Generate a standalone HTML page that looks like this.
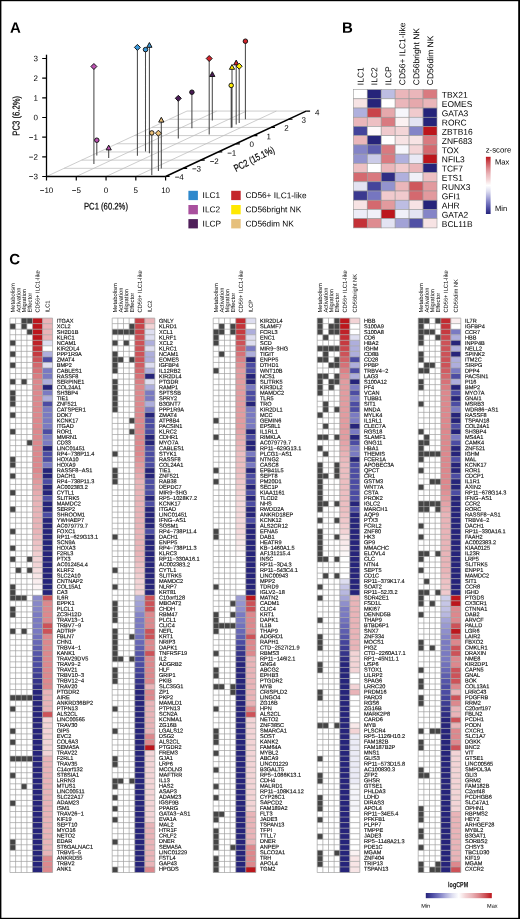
<!DOCTYPE html>
<html><head><meta charset="utf-8"><style>
html,body{margin:0;padding:0;background:#fff;}
body{width:520px;height:919px;overflow:hidden;}
svg{display:block;will-change:transform;text-rendering:geometricPrecision;font-family:"Liberation Sans", sans-serif;}
</style></head><body>
<svg width="520" height="919" viewBox="0 0 520 919" fill="#000">
<rect x="0" y="0" width="520" height="919" fill="#000"/>
<rect x="1.4" y="1.2" width="516.8" height="916.6" fill="#fff"/>
<text transform="translate(10 32.7) rotate(0.05)" font-size="15" font-weight="bold">A</text>
<text transform="translate(342 32.8) rotate(0.05)" font-size="15" font-weight="bold">B</text>
<text transform="translate(9.3 264.2) rotate(0.05)" font-size="15" font-weight="bold">C</text>
<path d="M64.06 168.32L183.16 168.32M81.62 160.14L200.72 160.14M99.18 151.96L218.28 151.96M116.74 143.78L235.84 143.78M134.3 135.6L253.4 135.6M151.86 127.42L270.96 127.42M169.42 119.24L288.52 119.24M186.98 111.06L306.08 111.06M46.5 176.5L186.98 111.06M76.28 176.5L216.75 111.06M106.05 176.5L246.53 111.06M135.82 176.5L276.3 111.06" stroke="#bcbcbc" stroke-width="0.75" fill="none"/>
<path d="M46.5 54.7L46.5 176.5" stroke="#000" stroke-width="1.3" fill="none"/>
<path d="M46.5 176.5L165.6 176.5" stroke="#000" stroke-width="1.4" fill="none"/>
<path d="M165.6 176.5L306.08 111.06" stroke="#000" stroke-width="1.5" fill="none"/>
<text transform="translate(37.9 179.35) rotate(0.05)" font-size="8" text-anchor="end">−3</text>
<text transform="translate(37.9 159.68) rotate(0.05)" font-size="8" text-anchor="end">−2</text>
<text transform="translate(37.9 140.01) rotate(0.05)" font-size="8" text-anchor="end">−1</text>
<text transform="translate(37.9 120.34) rotate(0.05)" font-size="8" text-anchor="end">0</text>
<text transform="translate(37.9 100.67) rotate(0.05)" font-size="8" text-anchor="end">1</text>
<text transform="translate(37.9 81) rotate(0.05)" font-size="8" text-anchor="end">2</text>
<text transform="translate(37.9 61.33) rotate(0.05)" font-size="8" text-anchor="end">3</text>
<text transform="translate(46.5 193.1) rotate(0.05)" font-size="8" text-anchor="middle">−10</text>
<text transform="translate(76.28 193.1) rotate(0.05)" font-size="8" text-anchor="middle">−5</text>
<text transform="translate(106.05 193.1) rotate(0.05)" font-size="8" text-anchor="middle">0</text>
<text transform="translate(135.82 193.1) rotate(0.05)" font-size="8" text-anchor="middle">5</text>
<text transform="translate(165.6 193.1) rotate(0.05)" font-size="8" text-anchor="middle">10</text>
<path d="M46.5 176.5L42.2 176.5M46.5 156.83L42.2 156.83M46.5 137.16L42.2 137.16M46.5 117.49L42.2 117.49M46.5 97.82L42.2 97.82M46.5 78.15L42.2 78.15M46.5 58.48L42.2 58.48M46.5 176.5L46.5 180.5M76.28 176.5L76.28 180.5M106.05 176.5L106.05 180.5M135.82 176.5L135.82 180.5M165.6 176.5L165.6 180.5M165.6 176.5L169.6 176.5M183.16 168.32L187.16 168.32M200.72 160.14L204.72 160.14M218.28 151.96L222.28 151.96M235.84 143.78L239.84 143.78M253.4 135.6L257.4 135.6M270.96 127.42L274.96 127.42M288.52 119.24L292.52 119.24M306.08 111.06L310.08 111.06" stroke="#000" stroke-width="1.2" fill="none"/>
<text transform="translate(179.2 179.85) rotate(0.05)" font-size="8" text-anchor="middle">−4</text>
<text transform="translate(196.5 171.55) rotate(0.05)" font-size="8" text-anchor="middle">−3</text>
<text transform="translate(214.2 164.05) rotate(0.05)" font-size="8" text-anchor="middle">−2</text>
<text transform="translate(231.7 155.65) rotate(0.05)" font-size="8" text-anchor="middle">−1</text>
<text transform="translate(251.6 146.95) rotate(0.05)" font-size="8" text-anchor="middle">0</text>
<text transform="translate(268.8 139.15) rotate(0.05)" font-size="8" text-anchor="middle">1</text>
<text transform="translate(286.5 130.85) rotate(0.05)" font-size="8" text-anchor="middle">2</text>
<text transform="translate(303.6 122.85) rotate(0.05)" font-size="8" text-anchor="middle">3</text>
<text transform="translate(317.1 115.15) rotate(0.05)" font-size="8" text-anchor="middle">4</text>
<text transform="translate(84 209.4) rotate(0.05) scale(0.8 1)" font-size="9.6" stroke="#000" stroke-width="0.2">PC1 (60.2%)</text>
<text transform="translate(19.6 135.7) rotate(-89.95) scale(0.77 1)" font-size="10" stroke="#000" stroke-width="0.2">PC3 (6.2%)</text>
<text transform="translate(236 172) rotate(-27) scale(0.77 1)" font-size="10" stroke="#000" stroke-width="0.2">PC2 (15.1%)</text>
<path d="M93.9 66.5L93.9 164M96.8 140.2L96.8 155.4M108.7 148L108.7 158M137.4 47.4L137.4 155.7M145.5 49.6L145.5 151.4M149.4 45.4L149.4 153.3M151.8 132.9L151.8 175.3M158.4 133.2L158.4 171M161.3 120.2L161.3 168.4M178.3 98.3L178.3 138.5M191.9 92.2L191.9 128.3M209.2 58.5L209.2 134.6M212.3 74.6L212.3 120.6M231.2 85.4L231.2 127.7M232 67.4L232 127.5M236.2 63L236.2 124.4M239.2 66.2L239.2 123M245.4 41.2L245.4 119.2" stroke="#4a4a4a" stroke-width="1.05" fill="none"/>
<path d="M93.9 63.5L96.9 66.5L93.9 69.5L90.9 66.5Z" fill="#bb52b0" stroke="#111" stroke-width="0.95"/>
<circle cx="96.8" cy="140.2" r="2.25" fill="#bb52b0" stroke="#111" stroke-width="0.95"/>
<path d="M108.7 145.1L111.3 149.9L106.1 149.9Z" fill="#bb52b0" stroke="#111" stroke-width="0.95" stroke-linejoin="miter"/>
<path d="M137.4 44.4L140.4 47.4L137.4 50.4L134.4 47.4Z" fill="#3a98da" stroke="#111" stroke-width="0.95"/>
<circle cx="145.5" cy="49.6" r="2.25" fill="#3a98da" stroke="#111" stroke-width="0.95"/>
<path d="M149.4 42.5L152 47.3L146.8 47.3Z" fill="#3a98da" stroke="#111" stroke-width="0.95" stroke-linejoin="miter"/>
<circle cx="151.8" cy="132.9" r="2.25" fill="#eec27a" stroke="#111" stroke-width="0.95"/>
<path d="M158.4 130.2L161.4 133.2L158.4 136.2L155.4 133.2Z" fill="#eec27a" stroke="#111" stroke-width="0.95"/>
<path d="M161.3 117.3L163.9 122.1L158.7 122.1Z" fill="#eec27a" stroke="#111" stroke-width="0.95" stroke-linejoin="miter"/>
<path d="M178.3 95.3L181.3 98.3L178.3 101.3L175.3 98.3Z" fill="#4a1a55" stroke="#111" stroke-width="0.95"/>
<circle cx="191.9" cy="92.2" r="2.25" fill="#4a1a55" stroke="#111" stroke-width="0.95"/>
<path d="M209.2 55.5L212.2 58.5L209.2 61.5L206.2 58.5Z" fill="#d2232a" stroke="#111" stroke-width="0.95"/>
<path d="M212.3 71.7L214.9 76.5L209.7 76.5Z" fill="#4a1a55" stroke="#111" stroke-width="0.95" stroke-linejoin="miter"/>
<circle cx="231.2" cy="85.4" r="2.25" fill="#ffec00" stroke="#111" stroke-width="0.95"/>
<path d="M232 64.5L234.6 69.3L229.4 69.3Z" fill="#ffec00" stroke="#111" stroke-width="0.95" stroke-linejoin="miter"/>
<path d="M236.2 60.1L238.8 64.9L233.6 64.9Z" fill="#d2232a" stroke="#111" stroke-width="0.95" stroke-linejoin="miter"/>
<path d="M239.2 63.2L242.2 66.2L239.2 69.2L236.2 66.2Z" fill="#ffec00" stroke="#111" stroke-width="0.95"/>
<circle cx="245.4" cy="41.2" r="2.25" fill="#d2232a" stroke="#111" stroke-width="0.95"/>
<rect x="188.4" y="190.8" width="9.5" height="9.3" fill="#2e88cc"/>
<text transform="translate(202.6 198.1) rotate(0.05)" font-size="8.3">ILC1</text>
<rect x="188.4" y="205.0" width="9.5" height="9.3" fill="#a9509e"/>
<text transform="translate(202.6 212.3) rotate(0.05)" font-size="8.3">ILC2</text>
<rect x="188.4" y="219.1" width="9.5" height="9.3" fill="#4f1f5a"/>
<text transform="translate(202.6 226.4) rotate(0.05)" font-size="8.3">ILCP</text>
<rect x="231.2" y="190.8" width="9.5" height="9.3" fill="#c4262b"/>
<text transform="translate(245.4 198.1) rotate(0.05)" font-size="8.3">CD56+ ILC1-like</text>
<rect x="231.2" y="205.0" width="9.5" height="9.3" fill="#ffe800"/>
<text transform="translate(245.4 212.3) rotate(0.05)" font-size="8.3">CD56bright NK</text>
<rect x="231.2" y="219.1" width="9.5" height="9.3" fill="#e6c07c"/>
<text transform="translate(245.4 226.4) rotate(0.05)" font-size="8.3">CD56dim NK</text>
<rect x="353.3" y="89.6" width="13.95" height="9.22" fill="#ffffff" stroke="#999" stroke-width="0.6"/>
<rect x="367.25" y="89.6" width="13.95" height="9.22" fill="#26247a" stroke="#999" stroke-width="0.6"/>
<rect x="381.2" y="89.6" width="13.95" height="9.22" fill="#bdbde2" stroke="#999" stroke-width="0.6"/>
<rect x="395.15" y="89.6" width="13.95" height="9.22" fill="#eab6ba" stroke="#999" stroke-width="0.6"/>
<rect x="409.1" y="89.6" width="13.95" height="9.22" fill="#eab6ba" stroke="#999" stroke-width="0.6"/>
<rect x="423.05" y="89.6" width="13.95" height="9.22" fill="#d97a80" stroke="#999" stroke-width="0.6"/>
<text transform="translate(441.8 97.81) rotate(0.05)" font-size="8.45">TBX21</text>
<rect x="353.3" y="98.82" width="13.95" height="9.22" fill="#f7e3e4" stroke="#999" stroke-width="0.6"/>
<rect x="367.25" y="98.82" width="13.95" height="9.22" fill="#26247a" stroke="#999" stroke-width="0.6"/>
<rect x="381.2" y="98.82" width="13.95" height="9.22" fill="#ffffff" stroke="#999" stroke-width="0.6"/>
<rect x="395.15" y="98.82" width="13.95" height="9.22" fill="#eab6ba" stroke="#999" stroke-width="0.6"/>
<rect x="409.1" y="98.82" width="13.95" height="9.22" fill="#e6a8ac" stroke="#999" stroke-width="0.6"/>
<rect x="423.05" y="98.82" width="13.95" height="9.22" fill="#eab6ba" stroke="#999" stroke-width="0.6"/>
<text transform="translate(441.8 107.03) rotate(0.05)" font-size="8.45">EOMES</text>
<rect x="353.3" y="108.04" width="13.95" height="9.22" fill="#b0b0dd" stroke="#999" stroke-width="0.6"/>
<rect x="367.25" y="108.04" width="13.95" height="9.22" fill="#c9444a" stroke="#999" stroke-width="0.6"/>
<rect x="381.2" y="108.04" width="13.95" height="9.22" fill="#e6a8ac" stroke="#999" stroke-width="0.6"/>
<rect x="395.15" y="108.04" width="13.95" height="9.22" fill="#f6f6fb" stroke="#999" stroke-width="0.6"/>
<rect x="409.1" y="108.04" width="13.95" height="9.22" fill="#f0cacd" stroke="#999" stroke-width="0.6"/>
<rect x="423.05" y="108.04" width="13.95" height="9.22" fill="#26247a" stroke="#999" stroke-width="0.6"/>
<text transform="translate(441.8 116.25) rotate(0.05)" font-size="8.45">GATA3</text>
<rect x="353.3" y="117.26" width="13.95" height="9.22" fill="#eab6ba" stroke="#999" stroke-width="0.6"/>
<rect x="367.25" y="117.26" width="13.95" height="9.22" fill="#edc0c3" stroke="#999" stroke-width="0.6"/>
<rect x="381.2" y="117.26" width="13.95" height="9.22" fill="#d97a80" stroke="#999" stroke-width="0.6"/>
<rect x="395.15" y="117.26" width="13.95" height="9.22" fill="#fbf1f2" stroke="#999" stroke-width="0.6"/>
<rect x="409.1" y="117.26" width="13.95" height="9.22" fill="#e3e3f2" stroke="#999" stroke-width="0.6"/>
<rect x="423.05" y="117.26" width="13.95" height="9.22" fill="#26247a" stroke="#999" stroke-width="0.6"/>
<text transform="translate(441.8 125.47) rotate(0.05)" font-size="8.45">RORC</text>
<rect x="353.3" y="126.48" width="13.95" height="9.22" fill="#44449b" stroke="#999" stroke-width="0.6"/>
<rect x="367.25" y="126.48" width="13.95" height="9.22" fill="#fdf9fa" stroke="#999" stroke-width="0.6"/>
<rect x="381.2" y="126.48" width="13.95" height="9.22" fill="#f0cacd" stroke="#999" stroke-width="0.6"/>
<rect x="395.15" y="126.48" width="13.95" height="9.22" fill="#f3d5d7" stroke="#999" stroke-width="0.6"/>
<rect x="409.1" y="126.48" width="13.95" height="9.22" fill="#8484c7" stroke="#999" stroke-width="0.6"/>
<rect x="423.05" y="126.48" width="13.95" height="9.22" fill="#bc161c" stroke="#999" stroke-width="0.6"/>
<text transform="translate(441.8 134.69) rotate(0.05)" font-size="8.45">ZBTB16</text>
<rect x="353.3" y="135.7" width="13.95" height="9.22" fill="#eab6ba" stroke="#999" stroke-width="0.6"/>
<rect x="367.25" y="135.7" width="13.95" height="9.22" fill="#26247a" stroke="#999" stroke-width="0.6"/>
<rect x="381.2" y="135.7" width="13.95" height="9.22" fill="#ffffff" stroke="#999" stroke-width="0.6"/>
<rect x="395.15" y="135.7" width="13.95" height="9.22" fill="#f7e3e4" stroke="#999" stroke-width="0.6"/>
<rect x="409.1" y="135.7" width="13.95" height="9.22" fill="#f7e3e4" stroke="#999" stroke-width="0.6"/>
<rect x="423.05" y="135.7" width="13.95" height="9.22" fill="#d97a80" stroke="#999" stroke-width="0.6"/>
<text transform="translate(441.8 143.91) rotate(0.05)" font-size="8.45">ZNF683</text>
<rect x="353.3" y="144.92" width="13.95" height="9.22" fill="#8484c7" stroke="#999" stroke-width="0.6"/>
<rect x="367.25" y="144.92" width="13.95" height="9.22" fill="#5d5dae" stroke="#999" stroke-width="0.6"/>
<rect x="381.2" y="144.92" width="13.95" height="9.22" fill="#d97a80" stroke="#999" stroke-width="0.6"/>
<rect x="395.15" y="144.92" width="13.95" height="9.22" fill="#f6f6fb" stroke="#999" stroke-width="0.6"/>
<rect x="409.1" y="144.92" width="13.95" height="9.22" fill="#f3d5d7" stroke="#999" stroke-width="0.6"/>
<rect x="423.05" y="144.92" width="13.95" height="9.22" fill="#d4696f" stroke="#999" stroke-width="0.6"/>
<text transform="translate(441.8 153.13) rotate(0.05)" font-size="8.45">TOX</text>
<rect x="353.3" y="154.14" width="13.95" height="9.22" fill="#9393ce" stroke="#999" stroke-width="0.6"/>
<rect x="367.25" y="154.14" width="13.95" height="9.22" fill="#cbcbe8" stroke="#999" stroke-width="0.6"/>
<rect x="381.2" y="154.14" width="13.95" height="9.22" fill="#d97a80" stroke="#999" stroke-width="0.6"/>
<rect x="395.15" y="154.14" width="13.95" height="9.22" fill="#b0b0dd" stroke="#999" stroke-width="0.6"/>
<rect x="409.1" y="154.14" width="13.95" height="9.22" fill="#e9e9f5" stroke="#999" stroke-width="0.6"/>
<rect x="423.05" y="154.14" width="13.95" height="9.22" fill="#bc161c" stroke="#999" stroke-width="0.6"/>
<text transform="translate(441.8 162.35) rotate(0.05)" font-size="8.45">NFIL3</text>
<rect x="353.3" y="163.36" width="13.95" height="9.22" fill="#edc0c3" stroke="#999" stroke-width="0.6"/>
<rect x="367.25" y="163.36" width="13.95" height="9.22" fill="#ffffff" stroke="#999" stroke-width="0.6"/>
<rect x="381.2" y="163.36" width="13.95" height="9.22" fill="#eab6ba" stroke="#999" stroke-width="0.6"/>
<rect x="395.15" y="163.36" width="13.95" height="9.22" fill="#f0cacd" stroke="#999" stroke-width="0.6"/>
<rect x="409.1" y="163.36" width="13.95" height="9.22" fill="#eab6ba" stroke="#999" stroke-width="0.6"/>
<rect x="423.05" y="163.36" width="13.95" height="9.22" fill="#26247a" stroke="#999" stroke-width="0.6"/>
<text transform="translate(441.8 171.57) rotate(0.05)" font-size="8.45">TCF7</text>
<rect x="353.3" y="172.58" width="13.95" height="9.22" fill="#d4696f" stroke="#999" stroke-width="0.6"/>
<rect x="367.25" y="172.58" width="13.95" height="9.22" fill="#d97a80" stroke="#999" stroke-width="0.6"/>
<rect x="381.2" y="172.58" width="13.95" height="9.22" fill="#2f2e84" stroke="#999" stroke-width="0.6"/>
<rect x="395.15" y="172.58" width="13.95" height="9.22" fill="#b0b0dd" stroke="#999" stroke-width="0.6"/>
<rect x="409.1" y="172.58" width="13.95" height="9.22" fill="#f0f0f8" stroke="#999" stroke-width="0.6"/>
<rect x="423.05" y="172.58" width="13.95" height="9.22" fill="#edc0c3" stroke="#999" stroke-width="0.6"/>
<text transform="translate(441.8 180.79) rotate(0.05)" font-size="8.45">ETS1</text>
<rect x="353.3" y="181.8" width="13.95" height="9.22" fill="#e3e3f2" stroke="#999" stroke-width="0.6"/>
<rect x="367.25" y="181.8" width="13.95" height="9.22" fill="#44449b" stroke="#999" stroke-width="0.6"/>
<rect x="381.2" y="181.8" width="13.95" height="9.22" fill="#9393ce" stroke="#999" stroke-width="0.6"/>
<rect x="395.15" y="181.8" width="13.95" height="9.22" fill="#eab6ba" stroke="#999" stroke-width="0.6"/>
<rect x="409.1" y="181.8" width="13.95" height="9.22" fill="#cf575d" stroke="#999" stroke-width="0.6"/>
<rect x="423.05" y="181.8" width="13.95" height="9.22" fill="#e29a9e" stroke="#999" stroke-width="0.6"/>
<text transform="translate(441.8 190.01) rotate(0.05)" font-size="8.45">RUNX3</text>
<rect x="353.3" y="191.02" width="13.95" height="9.22" fill="#3a398f" stroke="#999" stroke-width="0.6"/>
<rect x="367.25" y="191.02" width="13.95" height="9.22" fill="#7676c0" stroke="#999" stroke-width="0.6"/>
<rect x="381.2" y="191.02" width="13.95" height="9.22" fill="#f0cacd" stroke="#999" stroke-width="0.6"/>
<rect x="395.15" y="191.02" width="13.95" height="9.22" fill="#f0cacd" stroke="#999" stroke-width="0.6"/>
<rect x="409.1" y="191.02" width="13.95" height="9.22" fill="#d4696f" stroke="#999" stroke-width="0.6"/>
<rect x="423.05" y="191.02" width="13.95" height="9.22" fill="#e29a9e" stroke="#999" stroke-width="0.6"/>
<text transform="translate(441.8 199.23) rotate(0.05)" font-size="8.45">GFI1</text>
<rect x="353.3" y="200.24" width="13.95" height="9.22" fill="#f7e3e4" stroke="#999" stroke-width="0.6"/>
<rect x="367.25" y="200.24" width="13.95" height="9.22" fill="#d4696f" stroke="#999" stroke-width="0.6"/>
<rect x="381.2" y="200.24" width="13.95" height="9.22" fill="#e29a9e" stroke="#999" stroke-width="0.6"/>
<rect x="395.15" y="200.24" width="13.95" height="9.22" fill="#bdbde2" stroke="#999" stroke-width="0.6"/>
<rect x="409.1" y="200.24" width="13.95" height="9.22" fill="#f7e3e4" stroke="#999" stroke-width="0.6"/>
<rect x="423.05" y="200.24" width="13.95" height="9.22" fill="#26247a" stroke="#999" stroke-width="0.6"/>
<text transform="translate(441.8 208.45) rotate(0.05)" font-size="8.45">AHR</text>
<rect x="353.3" y="209.46" width="13.95" height="9.22" fill="#ededf7" stroke="#999" stroke-width="0.6"/>
<rect x="367.25" y="209.46" width="13.95" height="9.22" fill="#f0f0f8" stroke="#999" stroke-width="0.6"/>
<rect x="381.2" y="209.46" width="13.95" height="9.22" fill="#bc161c" stroke="#999" stroke-width="0.6"/>
<rect x="395.15" y="209.46" width="13.95" height="9.22" fill="#f0f0f8" stroke="#999" stroke-width="0.6"/>
<rect x="409.1" y="209.46" width="13.95" height="9.22" fill="#e3e3f2" stroke="#999" stroke-width="0.6"/>
<rect x="423.05" y="209.46" width="13.95" height="9.22" fill="#8484c7" stroke="#999" stroke-width="0.6"/>
<text transform="translate(441.8 217.67) rotate(0.05)" font-size="8.45">GATA2</text>
<rect x="353.3" y="218.68" width="13.95" height="9.22" fill="#c43137" stroke="#999" stroke-width="0.6"/>
<rect x="367.25" y="218.68" width="13.95" height="9.22" fill="#de8b90" stroke="#999" stroke-width="0.6"/>
<rect x="381.2" y="218.68" width="13.95" height="9.22" fill="#e3e3f2" stroke="#999" stroke-width="0.6"/>
<rect x="395.15" y="218.68" width="13.95" height="9.22" fill="#a2a2d6" stroke="#999" stroke-width="0.6"/>
<rect x="409.1" y="218.68" width="13.95" height="9.22" fill="#5050a5" stroke="#999" stroke-width="0.6"/>
<rect x="423.05" y="218.68" width="13.95" height="9.22" fill="#f7e3e4" stroke="#999" stroke-width="0.6"/>
<text transform="translate(441.8 226.89) rotate(0.05)" font-size="8.45">BCL11B</text>
<text transform="translate(363.38 85.2) rotate(-89.95)" font-size="8.5">ILC1</text>
<text transform="translate(377.33 85.2) rotate(-89.95)" font-size="8.5">ILC2</text>
<text transform="translate(391.28 85.2) rotate(-89.95)" font-size="8.5">ILCP</text>
<text transform="translate(405.23 85.2) rotate(-89.95)" font-size="8.5">CD56+ ILC1-like</text>
<text transform="translate(419.18 85.2) rotate(-89.95)" font-size="8.5">CD56bright NK</text>
<text transform="translate(433.12 85.2) rotate(-89.95)" font-size="8.5">CD56dim NK</text>
<defs><linearGradient id="zg" x1="0" y1="0" x2="0" y2="1"><stop offset="0.00" stop-color="#bc161c"/><stop offset="0.10" stop-color="#cd5258"/><stop offset="0.20" stop-color="#dd888d"/><stop offset="0.30" stop-color="#e9b4b8"/><stop offset="0.40" stop-color="#f3d4d6"/><stop offset="0.50" stop-color="#ffffff"/><stop offset="0.60" stop-color="#dedef0"/><stop offset="0.70" stop-color="#aeaedc"/><stop offset="0.80" stop-color="#7a7ac2"/><stop offset="0.90" stop-color="#4c4ca3"/><stop offset="1.00" stop-color="#26247a"/></linearGradient><linearGradient id="lg" x1="0" y1="0" x2="1" y2="0"><stop offset="0.00" stop-color="#26247a"/><stop offset="0.10" stop-color="#4c4ca3"/><stop offset="0.20" stop-color="#7a7ac2"/><stop offset="0.30" stop-color="#aeaedc"/><stop offset="0.40" stop-color="#dedef0"/><stop offset="0.50" stop-color="#ffffff"/><stop offset="0.60" stop-color="#f3d4d6"/><stop offset="0.70" stop-color="#e9b4b8"/><stop offset="0.80" stop-color="#dd888d"/><stop offset="0.90" stop-color="#cd5258"/><stop offset="1.00" stop-color="#bc161c"/></linearGradient></defs>
<text transform="translate(485.7 152.6) rotate(0.05)" font-size="7.8">z-score</text>
<rect x="485.9" y="156.8" width="4.7" height="57.2" fill="url(#zg)"/>
<text transform="translate(494.9 164.4) rotate(0.05)" font-size="7.6">Max</text>
<text transform="translate(494.9 211.1) rotate(0.05)" font-size="7.6">Min</text>
<rect x="9.95" y="318.1" width="22.6" height="554.4" fill="#fff"/>
<path d="M21.25 318.1h5.65v5.54h-5.65ZM26.9 318.1h5.65v5.54h-5.65ZM9.95 323.64h5.65v5.54h-5.65ZM21.25 323.64h5.65v5.54h-5.65ZM26.9 329.19h5.65v5.54h-5.65ZM9.95 340.28h5.65v5.54h-5.65ZM9.95 351.36h5.65v5.54h-5.65ZM9.95 362.45h5.65v5.54h-5.65ZM9.95 379.08h5.65v5.54h-5.65ZM21.25 379.08h5.65v5.54h-5.65ZM9.95 390.17h5.65v5.54h-5.65ZM9.95 395.72h5.65v5.54h-5.65ZM9.95 401.26h5.65v5.54h-5.65ZM9.95 412.35h5.65v5.54h-5.65ZM9.95 428.98h5.65v5.54h-5.65ZM26.9 440.07h5.65v5.54h-5.65ZM9.95 456.7h5.65v5.54h-5.65ZM9.95 462.24h5.65v5.54h-5.65ZM9.95 473.33h5.65v5.54h-5.65ZM9.95 489.96h5.65v5.54h-5.65ZM9.95 506.6h5.65v5.54h-5.65ZM9.95 528.77h5.65v5.54h-5.65ZM9.95 545.4h5.65v5.54h-5.65ZM9.95 556.49h5.65v5.54h-5.65ZM26.9 556.49h5.65v5.54h-5.65ZM15.6 567.58h5.65v5.54h-5.65ZM26.9 567.58h5.65v5.54h-5.65ZM9.95 584.21h5.65v5.54h-5.65ZM9.95 589.76h5.65v5.54h-5.65ZM9.95 595.3h5.65v5.54h-5.65ZM15.6 595.3h5.65v5.54h-5.65ZM21.25 595.3h5.65v5.54h-5.65ZM9.95 606.39h5.65v5.54h-5.65ZM9.95 611.93h5.65v5.54h-5.65ZM9.95 628.56h5.65v5.54h-5.65ZM21.25 628.56h5.65v5.54h-5.65ZM9.95 695.09h5.65v5.54h-5.65ZM15.6 695.09h5.65v5.54h-5.65ZM21.25 695.09h5.65v5.54h-5.65ZM26.9 695.09h5.65v5.54h-5.65ZM9.95 706.18h5.65v5.54h-5.65ZM9.95 728.36h5.65v5.54h-5.65ZM9.95 739.44h5.65v5.54h-5.65ZM9.95 756.08h5.65v5.54h-5.65ZM15.6 756.08h5.65v5.54h-5.65ZM21.25 756.08h5.65v5.54h-5.65ZM26.9 756.08h5.65v5.54h-5.65ZM9.95 772.71h5.65v5.54h-5.65ZM21.25 783.8h5.65v5.54h-5.65ZM9.95 800.43h5.65v5.54h-5.65ZM9.95 839.24h5.65v5.54h-5.65ZM9.95 844.78h5.65v5.54h-5.65Z" fill="#454545"/>
<rect x="32.55" y="318.1" width="10" height="5.54" fill="#bc161c"/>
<rect x="42.55" y="318.1" width="10" height="5.54" fill="#e9b4b8"/>
<rect x="32.55" y="323.64" width="10" height="5.54" fill="#bc161c"/>
<rect x="42.55" y="323.64" width="10" height="5.54" fill="#e9b4b8"/>
<rect x="32.55" y="329.19" width="10" height="5.54" fill="#bc161c"/>
<rect x="42.55" y="329.19" width="10" height="5.54" fill="#e9b4b8"/>
<rect x="32.55" y="334.73" width="10" height="5.54" fill="#bc161c"/>
<rect x="42.55" y="334.73" width="10" height="5.54" fill="#e9b4b8"/>
<rect x="32.55" y="340.28" width="10" height="5.54" fill="#bf2228"/>
<rect x="42.55" y="340.28" width="10" height="5.54" fill="#dedef0"/>
<rect x="32.55" y="345.82" width="10" height="5.54" fill="#c32e34"/>
<rect x="42.55" y="345.82" width="10" height="5.54" fill="#ffffff"/>
<rect x="32.55" y="351.36" width="10" height="5.54" fill="#c63a40"/>
<rect x="42.55" y="351.36" width="10" height="5.54" fill="#aeaedc"/>
<rect x="32.55" y="356.91" width="10" height="5.54" fill="#cd5258"/>
<rect x="42.55" y="356.91" width="10" height="5.54" fill="#4c4ca3"/>
<rect x="32.55" y="362.45" width="10" height="5.54" fill="#d3686d"/>
<rect x="42.55" y="362.45" width="10" height="5.54" fill="#dedef0"/>
<rect x="32.55" y="368" width="10" height="5.54" fill="#d77278"/>
<rect x="42.55" y="368" width="10" height="5.54" fill="#7a7ac2"/>
<rect x="32.55" y="373.54" width="10" height="5.54" fill="#da7d82"/>
<rect x="42.55" y="373.54" width="10" height="5.54" fill="#7a7ac2"/>
<rect x="32.55" y="379.08" width="10" height="5.54" fill="#dd888d"/>
<rect x="42.55" y="379.08" width="10" height="5.54" fill="#aeaedc"/>
<rect x="32.55" y="384.63" width="10" height="5.54" fill="#dd888d"/>
<rect x="42.55" y="384.63" width="10" height="5.54" fill="#26247a"/>
<rect x="32.55" y="390.17" width="10" height="5.54" fill="#dd888d"/>
<rect x="42.55" y="390.17" width="10" height="5.54" fill="#7a7ac2"/>
<rect x="32.55" y="395.72" width="10" height="5.54" fill="#dd888d"/>
<rect x="42.55" y="395.72" width="10" height="5.54" fill="#aeaedc"/>
<rect x="32.55" y="401.26" width="10" height="5.54" fill="#dd888d"/>
<rect x="42.55" y="401.26" width="10" height="5.54" fill="#4c4ca3"/>
<rect x="32.55" y="406.8" width="10" height="5.54" fill="#dd888d"/>
<rect x="42.55" y="406.8" width="10" height="5.54" fill="#7a7ac2"/>
<rect x="32.55" y="412.35" width="10" height="5.54" fill="#dd888d"/>
<rect x="42.55" y="412.35" width="10" height="5.54" fill="#7a7ac2"/>
<rect x="32.55" y="417.89" width="10" height="5.54" fill="#dd888d"/>
<rect x="42.55" y="417.89" width="10" height="5.54" fill="#7a7ac2"/>
<rect x="32.55" y="423.44" width="10" height="5.54" fill="#dd888d"/>
<rect x="42.55" y="423.44" width="10" height="5.54" fill="#7a7ac2"/>
<rect x="32.55" y="428.98" width="10" height="5.54" fill="#dd888d"/>
<rect x="42.55" y="428.98" width="10" height="5.54" fill="#4c4ca3"/>
<rect x="32.55" y="434.52" width="10" height="5.54" fill="#dd888d"/>
<rect x="42.55" y="434.52" width="10" height="5.54" fill="#7a7ac2"/>
<rect x="32.55" y="440.07" width="10" height="5.54" fill="#dd888d"/>
<rect x="42.55" y="440.07" width="10" height="5.54" fill="#7a7ac2"/>
<rect x="32.55" y="445.61" width="10" height="5.54" fill="#dd888d"/>
<rect x="42.55" y="445.61" width="10" height="5.54" fill="#26247a"/>
<rect x="32.55" y="451.16" width="10" height="5.54" fill="#dd888d"/>
<rect x="42.55" y="451.16" width="10" height="5.54" fill="#4c4ca3"/>
<rect x="32.55" y="456.7" width="10" height="5.54" fill="#dd888d"/>
<rect x="42.55" y="456.7" width="10" height="5.54" fill="#4c4ca3"/>
<rect x="32.55" y="462.24" width="10" height="5.54" fill="#dd888d"/>
<rect x="42.55" y="462.24" width="10" height="5.54" fill="#7a7ac2"/>
<rect x="32.55" y="467.79" width="10" height="5.54" fill="#dd888d"/>
<rect x="42.55" y="467.79" width="10" height="5.54" fill="#26247a"/>
<rect x="32.55" y="473.33" width="10" height="5.54" fill="#df9196"/>
<rect x="42.55" y="473.33" width="10" height="5.54" fill="#26247a"/>
<rect x="32.55" y="478.88" width="10" height="5.54" fill="#e29a9e"/>
<rect x="42.55" y="478.88" width="10" height="5.54" fill="#4c4ca3"/>
<rect x="32.55" y="484.42" width="10" height="5.54" fill="#e4a2a7"/>
<rect x="42.55" y="484.42" width="10" height="5.54" fill="#26247a"/>
<rect x="32.55" y="489.96" width="10" height="5.54" fill="#e7abaf"/>
<rect x="42.55" y="489.96" width="10" height="5.54" fill="#26247a"/>
<rect x="32.55" y="495.51" width="10" height="5.54" fill="#e9b4b8"/>
<rect x="42.55" y="495.51" width="10" height="5.54" fill="#4c4ca3"/>
<rect x="32.55" y="501.05" width="10" height="5.54" fill="#e9b4b8"/>
<rect x="42.55" y="501.05" width="10" height="5.54" fill="#26247a"/>
<rect x="32.55" y="506.6" width="10" height="5.54" fill="#e9b4b8"/>
<rect x="42.55" y="506.6" width="10" height="5.54" fill="#26247a"/>
<rect x="32.55" y="512.14" width="10" height="5.54" fill="#e9b4b8"/>
<rect x="42.55" y="512.14" width="10" height="5.54" fill="#4c4ca3"/>
<rect x="32.55" y="517.68" width="10" height="5.54" fill="#e9b4b8"/>
<rect x="42.55" y="517.68" width="10" height="5.54" fill="#26247a"/>
<rect x="32.55" y="523.23" width="10" height="5.54" fill="#e9b4b8"/>
<rect x="42.55" y="523.23" width="10" height="5.54" fill="#26247a"/>
<rect x="32.55" y="528.77" width="10" height="5.54" fill="#e9b4b8"/>
<rect x="42.55" y="528.77" width="10" height="5.54" fill="#26247a"/>
<rect x="32.55" y="534.32" width="10" height="5.54" fill="#ebbabe"/>
<rect x="42.55" y="534.32" width="10" height="5.54" fill="#26247a"/>
<rect x="32.55" y="539.86" width="10" height="5.54" fill="#edc1c4"/>
<rect x="42.55" y="539.86" width="10" height="5.54" fill="#26247a"/>
<rect x="32.55" y="545.4" width="10" height="5.54" fill="#efc7ca"/>
<rect x="42.55" y="545.4" width="10" height="5.54" fill="#26247a"/>
<rect x="32.55" y="550.95" width="10" height="5.54" fill="#f1ced0"/>
<rect x="42.55" y="550.95" width="10" height="5.54" fill="#26247a"/>
<rect x="32.55" y="556.49" width="10" height="5.54" fill="#f3d4d6"/>
<rect x="42.55" y="556.49" width="10" height="5.54" fill="#26247a"/>
<rect x="32.55" y="562.04" width="10" height="5.54" fill="#f3d4d6"/>
<rect x="42.55" y="562.04" width="10" height="5.54" fill="#26247a"/>
<rect x="32.55" y="567.58" width="10" height="5.54" fill="#f5ddde"/>
<rect x="42.55" y="567.58" width="10" height="5.54" fill="#26247a"/>
<rect x="32.55" y="573.12" width="10" height="5.54" fill="#f8e5e6"/>
<rect x="42.55" y="573.12" width="10" height="5.54" fill="#26247a"/>
<rect x="32.55" y="578.67" width="10" height="5.54" fill="#faeeef"/>
<rect x="42.55" y="578.67" width="10" height="5.54" fill="#26247a"/>
<rect x="32.55" y="584.21" width="10" height="5.54" fill="#fcf4f5"/>
<rect x="42.55" y="584.21" width="10" height="5.54" fill="#26247a"/>
<rect x="32.55" y="589.76" width="10" height="5.54" fill="#ffffff"/>
<rect x="42.55" y="589.76" width="10" height="5.54" fill="#26247a"/>
<rect x="32.55" y="595.3" width="10" height="5.54" fill="#8b8bcb"/>
<rect x="42.55" y="595.3" width="10" height="5.54" fill="#cd5258"/>
<rect x="32.55" y="600.84" width="10" height="5.54" fill="#8787c8"/>
<rect x="42.55" y="600.84" width="10" height="5.54" fill="#dd888d"/>
<rect x="32.55" y="606.39" width="10" height="5.54" fill="#8484c7"/>
<rect x="42.55" y="606.39" width="10" height="5.54" fill="#dd888d"/>
<rect x="32.55" y="611.93" width="10" height="5.54" fill="#7a7ac2"/>
<rect x="42.55" y="611.93" width="10" height="5.54" fill="#dd888d"/>
<rect x="32.55" y="617.48" width="10" height="5.54" fill="#7a7ac2"/>
<rect x="42.55" y="617.48" width="10" height="5.54" fill="#dd888d"/>
<rect x="32.55" y="623.02" width="10" height="5.54" fill="#7a7ac2"/>
<rect x="42.55" y="623.02" width="10" height="5.54" fill="#cd5258"/>
<rect x="32.55" y="628.56" width="10" height="5.54" fill="#7a7ac2"/>
<rect x="42.55" y="628.56" width="10" height="5.54" fill="#cd5258"/>
<rect x="32.55" y="634.11" width="10" height="5.54" fill="#7171bc"/>
<rect x="42.55" y="634.11" width="10" height="5.54" fill="#dd888d"/>
<rect x="32.55" y="639.65" width="10" height="5.54" fill="#6868b6"/>
<rect x="42.55" y="639.65" width="10" height="5.54" fill="#dd888d"/>
<rect x="32.55" y="645.2" width="10" height="5.54" fill="#5e5eaf"/>
<rect x="42.55" y="645.2" width="10" height="5.54" fill="#dd888d"/>
<rect x="32.55" y="650.74" width="10" height="5.54" fill="#5555a9"/>
<rect x="42.55" y="650.74" width="10" height="5.54" fill="#dd888d"/>
<rect x="32.55" y="656.28" width="10" height="5.54" fill="#4c4ca3"/>
<rect x="42.55" y="656.28" width="10" height="5.54" fill="#dd888d"/>
<rect x="32.55" y="661.83" width="10" height="5.54" fill="#4c4ca3"/>
<rect x="42.55" y="661.83" width="10" height="5.54" fill="#dd888d"/>
<rect x="32.55" y="667.37" width="10" height="5.54" fill="#44449b"/>
<rect x="42.55" y="667.37" width="10" height="5.54" fill="#dd888d"/>
<rect x="32.55" y="672.92" width="10" height="5.54" fill="#3d3c93"/>
<rect x="42.55" y="672.92" width="10" height="5.54" fill="#dd888d"/>
<rect x="32.55" y="678.46" width="10" height="5.54" fill="#35348a"/>
<rect x="42.55" y="678.46" width="10" height="5.54" fill="#dd888d"/>
<rect x="32.55" y="684" width="10" height="5.54" fill="#2e2c82"/>
<rect x="42.55" y="684" width="10" height="5.54" fill="#dd888d"/>
<rect x="32.55" y="689.55" width="10" height="5.54" fill="#26247a"/>
<rect x="42.55" y="689.55" width="10" height="5.54" fill="#e9b4b8"/>
<rect x="32.55" y="695.09" width="10" height="5.54" fill="#26247a"/>
<rect x="42.55" y="695.09" width="10" height="5.54" fill="#e9b4b8"/>
<rect x="32.55" y="700.64" width="10" height="5.54" fill="#26247a"/>
<rect x="42.55" y="700.64" width="10" height="5.54" fill="#e9b4b8"/>
<rect x="32.55" y="706.18" width="10" height="5.54" fill="#26247a"/>
<rect x="42.55" y="706.18" width="10" height="5.54" fill="#e9b4b8"/>
<rect x="32.55" y="711.72" width="10" height="5.54" fill="#26247a"/>
<rect x="42.55" y="711.72" width="10" height="5.54" fill="#cd5258"/>
<rect x="32.55" y="717.27" width="10" height="5.54" fill="#26247a"/>
<rect x="42.55" y="717.27" width="10" height="5.54" fill="#f3d4d6"/>
<rect x="32.55" y="722.81" width="10" height="5.54" fill="#26247a"/>
<rect x="42.55" y="722.81" width="10" height="5.54" fill="#f3d4d6"/>
<rect x="32.55" y="728.36" width="10" height="5.54" fill="#26247a"/>
<rect x="42.55" y="728.36" width="10" height="5.54" fill="#f3d4d6"/>
<rect x="32.55" y="733.9" width="10" height="5.54" fill="#26247a"/>
<rect x="42.55" y="733.9" width="10" height="5.54" fill="#f3d4d6"/>
<rect x="32.55" y="739.44" width="10" height="5.54" fill="#26247a"/>
<rect x="42.55" y="739.44" width="10" height="5.54" fill="#f3d4d6"/>
<rect x="32.55" y="744.99" width="10" height="5.54" fill="#26247a"/>
<rect x="42.55" y="744.99" width="10" height="5.54" fill="#f3d4d6"/>
<rect x="32.55" y="750.53" width="10" height="5.54" fill="#26247a"/>
<rect x="42.55" y="750.53" width="10" height="5.54" fill="#f3d4d6"/>
<rect x="32.55" y="756.08" width="10" height="5.54" fill="#26247a"/>
<rect x="42.55" y="756.08" width="10" height="5.54" fill="#e9b4b8"/>
<rect x="32.55" y="761.62" width="10" height="5.54" fill="#26247a"/>
<rect x="42.55" y="761.62" width="10" height="5.54" fill="#e9b4b8"/>
<rect x="32.55" y="767.16" width="10" height="5.54" fill="#26247a"/>
<rect x="42.55" y="767.16" width="10" height="5.54" fill="#e9b4b8"/>
<rect x="32.55" y="772.71" width="10" height="5.54" fill="#26247a"/>
<rect x="42.55" y="772.71" width="10" height="5.54" fill="#e9b4b8"/>
<rect x="32.55" y="778.25" width="10" height="5.54" fill="#26247a"/>
<rect x="42.55" y="778.25" width="10" height="5.54" fill="#e9b4b8"/>
<rect x="32.55" y="783.8" width="10" height="5.54" fill="#26247a"/>
<rect x="42.55" y="783.8" width="10" height="5.54" fill="#e9b4b8"/>
<rect x="32.55" y="789.34" width="10" height="5.54" fill="#26247a"/>
<rect x="42.55" y="789.34" width="10" height="5.54" fill="#e9b4b8"/>
<rect x="32.55" y="794.88" width="10" height="5.54" fill="#26247a"/>
<rect x="42.55" y="794.88" width="10" height="5.54" fill="#e9b4b8"/>
<rect x="32.55" y="800.43" width="10" height="5.54" fill="#26247a"/>
<rect x="42.55" y="800.43" width="10" height="5.54" fill="#e9b4b8"/>
<rect x="32.55" y="805.97" width="10" height="5.54" fill="#26247a"/>
<rect x="42.55" y="805.97" width="10" height="5.54" fill="#e9b4b8"/>
<rect x="32.55" y="811.52" width="10" height="5.54" fill="#26247a"/>
<rect x="42.55" y="811.52" width="10" height="5.54" fill="#e9b4b8"/>
<rect x="32.55" y="817.06" width="10" height="5.54" fill="#26247a"/>
<rect x="42.55" y="817.06" width="10" height="5.54" fill="#e9b4b8"/>
<rect x="32.55" y="822.6" width="10" height="5.54" fill="#26247a"/>
<rect x="42.55" y="822.6" width="10" height="5.54" fill="#e9b4b8"/>
<rect x="32.55" y="828.15" width="10" height="5.54" fill="#26247a"/>
<rect x="42.55" y="828.15" width="10" height="5.54" fill="#e9b4b8"/>
<rect x="32.55" y="833.69" width="10" height="5.54" fill="#26247a"/>
<rect x="42.55" y="833.69" width="10" height="5.54" fill="#e9b4b8"/>
<rect x="32.55" y="839.24" width="10" height="5.54" fill="#26247a"/>
<rect x="42.55" y="839.24" width="10" height="5.54" fill="#e9b4b8"/>
<rect x="32.55" y="844.78" width="10" height="5.54" fill="#26247a"/>
<rect x="42.55" y="844.78" width="10" height="5.54" fill="#e9b4b8"/>
<rect x="32.55" y="850.32" width="10" height="5.54" fill="#26247a"/>
<rect x="42.55" y="850.32" width="10" height="5.54" fill="#e9b4b8"/>
<rect x="32.55" y="855.87" width="10" height="5.54" fill="#26247a"/>
<rect x="42.55" y="855.87" width="10" height="5.54" fill="#dd888d"/>
<rect x="32.55" y="861.41" width="10" height="5.54" fill="#26247a"/>
<rect x="42.55" y="861.41" width="10" height="5.54" fill="#dd888d"/>
<rect x="32.55" y="866.96" width="10" height="5.54" fill="#26247a"/>
<rect x="42.55" y="866.96" width="10" height="5.54" fill="#dd888d"/>
<path d="M9.95 318.1h42.6M9.95 323.64h42.6M9.95 329.19h42.6M9.95 334.73h42.6M9.95 340.28h42.6M9.95 345.82h42.6M9.95 351.36h42.6M9.95 356.91h42.6M9.95 362.45h42.6M9.95 368h42.6M9.95 373.54h42.6M9.95 379.08h42.6M9.95 384.63h42.6M9.95 390.17h42.6M9.95 395.72h42.6M9.95 401.26h42.6M9.95 406.8h42.6M9.95 412.35h42.6M9.95 417.89h42.6M9.95 423.44h42.6M9.95 428.98h42.6M9.95 434.52h42.6M9.95 440.07h42.6M9.95 445.61h42.6M9.95 451.16h42.6M9.95 456.7h42.6M9.95 462.24h42.6M9.95 467.79h42.6M9.95 473.33h42.6M9.95 478.88h42.6M9.95 484.42h42.6M9.95 489.96h42.6M9.95 495.51h42.6M9.95 501.05h42.6M9.95 506.6h42.6M9.95 512.14h42.6M9.95 517.68h42.6M9.95 523.23h42.6M9.95 528.77h42.6M9.95 534.32h42.6M9.95 539.86h42.6M9.95 545.4h42.6M9.95 550.95h42.6M9.95 556.49h42.6M9.95 562.04h42.6M9.95 567.58h42.6M9.95 573.12h42.6M9.95 578.67h42.6M9.95 584.21h42.6M9.95 589.76h42.6M9.95 595.3h42.6M9.95 600.84h42.6M9.95 606.39h42.6M9.95 611.93h42.6M9.95 617.48h42.6M9.95 623.02h42.6M9.95 628.56h42.6M9.95 634.11h42.6M9.95 639.65h42.6M9.95 645.2h42.6M9.95 650.74h42.6M9.95 656.28h42.6M9.95 661.83h42.6M9.95 667.37h42.6M9.95 672.92h42.6M9.95 678.46h42.6M9.95 684h42.6M9.95 689.55h42.6M9.95 695.09h42.6M9.95 700.64h42.6M9.95 706.18h42.6M9.95 711.72h42.6M9.95 717.27h42.6M9.95 722.81h42.6M9.95 728.36h42.6M9.95 733.9h42.6M9.95 739.44h42.6M9.95 744.99h42.6M9.95 750.53h42.6M9.95 756.08h42.6M9.95 761.62h42.6M9.95 767.16h42.6M9.95 772.71h42.6M9.95 778.25h42.6M9.95 783.8h42.6M9.95 789.34h42.6M9.95 794.88h42.6M9.95 800.43h42.6M9.95 805.97h42.6M9.95 811.52h42.6M9.95 817.06h42.6M9.95 822.6h42.6M9.95 828.15h42.6M9.95 833.69h42.6M9.95 839.24h42.6M9.95 844.78h42.6M9.95 850.32h42.6M9.95 855.87h42.6M9.95 861.41h42.6M9.95 866.96h42.6M9.95 872.5h42.6M9.95 318.1v554.4M15.6 318.1v554.4M21.25 318.1v554.4M26.9 318.1v554.4M32.55 318.1v554.4M42.55 318.1v554.4M52.55 318.1v554.4" stroke="#a0a0a0" stroke-width="0.7" fill="none"/>
<g font-size="5.6" stroke="#222" stroke-width="0.12"><text transform="translate(56.65 322.82) rotate(0.05)">ITGAX</text><text transform="translate(56.65 328.36) rotate(0.05)">XCL2</text><text transform="translate(56.65 333.89) rotate(0.05)">SH2D1B</text><text transform="translate(56.65 339.43) rotate(0.05)">KLRC1</text><text transform="translate(56.65 344.96) rotate(0.05)">NCAM1</text><text transform="translate(56.65 350.5) rotate(0.05)">KIR2DL4</text><text transform="translate(56.65 356.03) rotate(0.05)">PPP1R9A</text><text transform="translate(56.65 361.57) rotate(0.05)">ZMAT4</text><text transform="translate(56.65 367.1) rotate(0.05)">BMP2</text><text transform="translate(56.65 372.64) rotate(0.05)">CABLES1</text><text transform="translate(56.65 378.17) rotate(0.05)">RASSF8</text><text transform="translate(56.65 383.71) rotate(0.05)">SERPINE1</text><text transform="translate(56.65 389.24) rotate(0.05)">COL24A1</text><text transform="translate(56.65 394.78) rotate(0.05)">SH3BP4</text><text transform="translate(56.65 400.31) rotate(0.05)">TIE1</text><text transform="translate(56.65 405.85) rotate(0.05)">ZNF521</text><text transform="translate(56.65 411.38) rotate(0.05)">CATSPER1</text><text transform="translate(56.65 416.92) rotate(0.05)">DOK7</text><text transform="translate(56.65 422.45) rotate(0.05)">KCNK17</text><text transform="translate(56.65 427.99) rotate(0.05)">ITGAD</text><text transform="translate(56.65 433.52) rotate(0.05)">ROR1</text><text transform="translate(56.65 439.06) rotate(0.05)">MMRN1</text><text transform="translate(56.65 444.59) rotate(0.05)">CD33</text><text transform="translate(56.65 450.13) rotate(0.05)">LINC01451</text><text transform="translate(56.65 455.66) rotate(0.05)">RP4−738P11.4</text><text transform="translate(56.65 461.2) rotate(0.05)">HOXA10</text><text transform="translate(56.65 466.73) rotate(0.05)">HOXA9</text><text transform="translate(56.65 472.27) rotate(0.05)">RASSF8−AS1</text><text transform="translate(56.65 477.8) rotate(0.05)">DACH1</text><text transform="translate(56.65 483.34) rotate(0.05)">RP4−738P11.3</text><text transform="translate(56.65 488.87) rotate(0.05)">AC002383.2</text><text transform="translate(56.65 494.41) rotate(0.05)">CYTL1</text><text transform="translate(56.65 499.94) rotate(0.05)">SLITRK5</text><text transform="translate(56.65 505.48) rotate(0.05)">MAMDC2</text><text transform="translate(56.65 511.01) rotate(0.05)">SERP2</text><text transform="translate(56.65 516.55) rotate(0.05)">SHROOM1</text><text transform="translate(56.65 522.08) rotate(0.05)">YWHAEP7</text><text transform="translate(56.65 527.62) rotate(0.05)">AC079779.7</text><text transform="translate(56.65 533.15) rotate(0.05)">FOXC1</text><text transform="translate(56.65 538.69) rotate(0.05)">RP11−629G13.1</text><text transform="translate(56.65 544.22) rotate(0.05)">SCN9A</text><text transform="translate(56.65 549.76) rotate(0.05)">HOXA3</text><text transform="translate(56.65 555.29) rotate(0.05)">F2RL3</text><text transform="translate(56.65 560.83) rotate(0.05)">PTX3</text><text transform="translate(56.65 566.36) rotate(0.05)">AC012454.4</text><text transform="translate(56.65 571.9) rotate(0.05)">KLRF2</text><text transform="translate(56.65 577.43) rotate(0.05)">SLC2A10</text><text transform="translate(56.65 582.97) rotate(0.05)">CNTNAP2</text><text transform="translate(56.65 588.5) rotate(0.05)">COL15A1</text><text transform="translate(56.65 594.04) rotate(0.05)">CA3</text><text transform="translate(56.65 599.57) rotate(0.05)">IL6R</text><text transform="translate(56.65 605.11) rotate(0.05)">EPPK1</text><text transform="translate(56.65 610.64) rotate(0.05)">PLCL1</text><text transform="translate(56.65 616.18) rotate(0.05)">ZC3H12D</text><text transform="translate(56.65 621.71) rotate(0.05)">TRAV13−1</text><text transform="translate(56.65 627.25) rotate(0.05)">TRBV7−9</text><text transform="translate(56.65 632.78) rotate(0.05)">ADTRP</text><text transform="translate(56.65 638.32) rotate(0.05)">FBLN7</text><text transform="translate(56.65 643.85) rotate(0.05)">CHN1</text><text transform="translate(56.65 649.39) rotate(0.05)">TRBV4−1</text><text transform="translate(56.65 654.92) rotate(0.05)">KANK1</text><text transform="translate(56.65 660.46) rotate(0.05)">TRAV29DV5</text><text transform="translate(56.65 665.99) rotate(0.05)">TRAV9−2</text><text transform="translate(56.65 671.53) rotate(0.05)">TRAV21</text><text transform="translate(56.65 677.06) rotate(0.05)">TRBV10−3</text><text transform="translate(56.65 682.6) rotate(0.05)">TRBV12−4</text><text transform="translate(56.65 688.13) rotate(0.05)">TRAV20</text><text transform="translate(56.65 693.67) rotate(0.05)">PTGDR2</text><text transform="translate(56.65 699.2) rotate(0.05)">AIRE</text><text transform="translate(56.65 704.74) rotate(0.05)">ANKRD36BP2</text><text transform="translate(56.65 710.27) rotate(0.05)">PTPN13</text><text transform="translate(56.65 715.81) rotate(0.05)">ALS2CL</text><text transform="translate(56.65 721.34) rotate(0.05)">LINC00565</text><text transform="translate(56.65 726.88) rotate(0.05)">TRAV30</text><text transform="translate(56.65 732.41) rotate(0.05)">GIP5</text><text transform="translate(56.65 737.95) rotate(0.05)">EVC2</text><text transform="translate(56.65 743.48) rotate(0.05)">COL6A3</text><text transform="translate(56.65 749.02) rotate(0.05)">SEMA5A</text><text transform="translate(56.65 754.55) rotate(0.05)">TRAV22</text><text transform="translate(56.65 760.09) rotate(0.05)">F2RL1</text><text transform="translate(56.65 765.62) rotate(0.05)">TRAV35</text><text transform="translate(56.65 771.16) rotate(0.05)">C14orf132</text><text transform="translate(56.65 776.69) rotate(0.05)">ST8SIA1</text><text transform="translate(56.65 782.23) rotate(0.05)">LRRN3</text><text transform="translate(56.65 787.76) rotate(0.05)">MTUS1</text><text transform="translate(56.65 793.3) rotate(0.05)">LINC00511</text><text transform="translate(56.65 798.83) rotate(0.05)">SLC22A17</text><text transform="translate(56.65 804.37) rotate(0.05)">ADAM23</text><text transform="translate(56.65 809.9) rotate(0.05)">ISM1</text><text transform="translate(56.65 815.44) rotate(0.05)">TRAV26−1</text><text transform="translate(56.65 820.97) rotate(0.05)">KIF19</text><text transform="translate(56.65 826.51) rotate(0.05)">SEPT10</text><text transform="translate(56.65 832.04) rotate(0.05)">MYO16</text><text transform="translate(56.65 837.58) rotate(0.05)">NETO2</text><text transform="translate(56.65 843.11) rotate(0.05)">EDAR</text><text transform="translate(56.65 848.65) rotate(0.05)">ST6GALNAC1</text><text transform="translate(56.65 854.18) rotate(0.05)">TRBV5−5</text><text transform="translate(56.65 859.72) rotate(0.05)">ANKRD55</text><text transform="translate(56.65 865.25) rotate(0.05)">TRBV2</text><text transform="translate(56.65 870.79) rotate(0.05)">ANK1</text></g>
<g font-size="5.75"><text transform="translate(14.77 312.6) rotate(-89.95)">Metabolism</text><text transform="translate(20.43 312.6) rotate(-89.95)">Activation</text><text transform="translate(26.07 312.6) rotate(-89.95)">Migration</text><text transform="translate(31.73 312.6) rotate(-89.95)">Effector</text><text transform="translate(39.55 312.6) rotate(-89.95)">CD56+ ILC1-like</text><text transform="translate(49.55 312.6) rotate(-89.95)">ILC1</text></g>
<rect x="112.2" y="318.1" width="22.6" height="554.4" fill="#fff"/>
<path d="M129.15 323.64h5.65v5.54h-5.65ZM112.2 329.19h5.65v5.54h-5.65ZM117.85 329.19h5.65v5.54h-5.65ZM123.5 329.19h5.65v5.54h-5.65ZM129.15 329.19h5.65v5.54h-5.65ZM112.2 340.28h5.65v5.54h-5.65ZM123.5 340.28h5.65v5.54h-5.65ZM112.2 351.36h5.65v5.54h-5.65ZM112.2 356.91h5.65v5.54h-5.65ZM117.85 356.91h5.65v5.54h-5.65ZM129.15 356.91h5.65v5.54h-5.65ZM112.2 362.45h5.65v5.54h-5.65ZM112.2 368h5.65v5.54h-5.65ZM112.2 379.08h5.65v5.54h-5.65ZM112.2 384.63h5.65v5.54h-5.65ZM112.2 390.17h5.65v5.54h-5.65ZM112.2 395.72h5.65v5.54h-5.65ZM112.2 401.26h5.65v5.54h-5.65ZM112.2 406.8h5.65v5.54h-5.65ZM129.15 417.89h5.65v5.54h-5.65ZM129.15 428.98h5.65v5.54h-5.65ZM112.2 451.16h5.65v5.54h-5.65ZM112.2 467.79h5.65v5.54h-5.65ZM112.2 473.33h5.65v5.54h-5.65ZM112.2 478.88h5.65v5.54h-5.65ZM112.2 534.32h5.65v5.54h-5.65ZM112.2 567.58h5.65v5.54h-5.65ZM112.2 584.21h5.65v5.54h-5.65ZM112.2 600.84h5.65v5.54h-5.65ZM112.2 606.39h5.65v5.54h-5.65ZM112.2 611.93h5.65v5.54h-5.65ZM112.2 617.48h5.65v5.54h-5.65ZM112.2 628.56h5.65v5.54h-5.65ZM112.2 634.11h5.65v5.54h-5.65ZM129.15 634.11h5.65v5.54h-5.65ZM112.2 639.65h5.65v5.54h-5.65ZM112.2 645.2h5.65v5.54h-5.65ZM112.2 650.74h5.65v5.54h-5.65ZM112.2 656.28h5.65v5.54h-5.65ZM117.85 656.28h5.65v5.54h-5.65ZM129.15 656.28h5.65v5.54h-5.65ZM112.2 667.37h5.65v5.54h-5.65ZM112.2 672.92h5.65v5.54h-5.65ZM112.2 678.46h5.65v5.54h-5.65ZM112.2 706.18h5.65v5.54h-5.65ZM112.2 728.36h5.65v5.54h-5.65ZM112.2 756.08h5.65v5.54h-5.65ZM112.2 761.62h5.65v5.54h-5.65ZM112.2 778.25h5.65v5.54h-5.65ZM117.85 778.25h5.65v5.54h-5.65ZM129.15 778.25h5.65v5.54h-5.65ZM112.2 783.8h5.65v5.54h-5.65ZM112.2 794.88h5.65v5.54h-5.65ZM112.2 805.97h5.65v5.54h-5.65ZM112.2 817.06h5.65v5.54h-5.65ZM112.2 839.24h5.65v5.54h-5.65ZM112.2 866.96h5.65v5.54h-5.65Z" fill="#454545"/>
<rect x="134.8" y="318.1" width="10" height="5.54" fill="#c73e44"/>
<rect x="144.8" y="318.1" width="10" height="5.54" fill="#e9b4b8"/>
<rect x="134.8" y="323.64" width="10" height="5.54" fill="#c94349"/>
<rect x="144.8" y="323.64" width="10" height="5.54" fill="#f3d4d6"/>
<rect x="134.8" y="329.19" width="10" height="5.54" fill="#ca464c"/>
<rect x="144.8" y="329.19" width="10" height="5.54" fill="#dedef0"/>
<rect x="134.8" y="334.73" width="10" height="5.54" fill="#cd5258"/>
<rect x="144.8" y="334.73" width="10" height="5.54" fill="#dedef0"/>
<rect x="134.8" y="340.28" width="10" height="5.54" fill="#cd5258"/>
<rect x="144.8" y="340.28" width="10" height="5.54" fill="#aeaedc"/>
<rect x="134.8" y="345.82" width="10" height="5.54" fill="#cd5258"/>
<rect x="144.8" y="345.82" width="10" height="5.54" fill="#dedef0"/>
<rect x="134.8" y="351.36" width="10" height="5.54" fill="#cd5258"/>
<rect x="144.8" y="351.36" width="10" height="5.54" fill="#aeaedc"/>
<rect x="134.8" y="356.91" width="10" height="5.54" fill="#cd5258"/>
<rect x="144.8" y="356.91" width="10" height="5.54" fill="#aeaedc"/>
<rect x="134.8" y="362.45" width="10" height="5.54" fill="#d05d63"/>
<rect x="144.8" y="362.45" width="10" height="5.54" fill="#dedef0"/>
<rect x="134.8" y="368" width="10" height="5.54" fill="#d3686d"/>
<rect x="144.8" y="368" width="10" height="5.54" fill="#aeaedc"/>
<rect x="134.8" y="373.54" width="10" height="5.54" fill="#d77278"/>
<rect x="144.8" y="373.54" width="10" height="5.54" fill="#26247a"/>
<rect x="134.8" y="379.08" width="10" height="5.54" fill="#da7d82"/>
<rect x="144.8" y="379.08" width="10" height="5.54" fill="#dedef0"/>
<rect x="134.8" y="384.63" width="10" height="5.54" fill="#dd888d"/>
<rect x="144.8" y="384.63" width="10" height="5.54" fill="#aeaedc"/>
<rect x="134.8" y="390.17" width="10" height="5.54" fill="#dd888d"/>
<rect x="144.8" y="390.17" width="10" height="5.54" fill="#7a7ac2"/>
<rect x="134.8" y="395.72" width="10" height="5.54" fill="#dd888d"/>
<rect x="144.8" y="395.72" width="10" height="5.54" fill="#7a7ac2"/>
<rect x="134.8" y="401.26" width="10" height="5.54" fill="#dd888d"/>
<rect x="144.8" y="401.26" width="10" height="5.54" fill="#aeaedc"/>
<rect x="134.8" y="406.8" width="10" height="5.54" fill="#dd888d"/>
<rect x="144.8" y="406.8" width="10" height="5.54" fill="#7a7ac2"/>
<rect x="134.8" y="412.35" width="10" height="5.54" fill="#dd888d"/>
<rect x="144.8" y="412.35" width="10" height="5.54" fill="#26247a"/>
<rect x="134.8" y="417.89" width="10" height="5.54" fill="#dd888d"/>
<rect x="144.8" y="417.89" width="10" height="5.54" fill="#4c4ca3"/>
<rect x="134.8" y="423.44" width="10" height="5.54" fill="#dd888d"/>
<rect x="144.8" y="423.44" width="10" height="5.54" fill="#4c4ca3"/>
<rect x="134.8" y="428.98" width="10" height="5.54" fill="#dd888d"/>
<rect x="144.8" y="428.98" width="10" height="5.54" fill="#4c4ca3"/>
<rect x="134.8" y="434.52" width="10" height="5.54" fill="#dd888d"/>
<rect x="144.8" y="434.52" width="10" height="5.54" fill="#26247a"/>
<rect x="134.8" y="440.07" width="10" height="5.54" fill="#dd888d"/>
<rect x="144.8" y="440.07" width="10" height="5.54" fill="#26247a"/>
<rect x="134.8" y="445.61" width="10" height="5.54" fill="#dd888d"/>
<rect x="144.8" y="445.61" width="10" height="5.54" fill="#4c4ca3"/>
<rect x="134.8" y="451.16" width="10" height="5.54" fill="#dd888d"/>
<rect x="144.8" y="451.16" width="10" height="5.54" fill="#4c4ca3"/>
<rect x="134.8" y="456.7" width="10" height="5.54" fill="#df9196"/>
<rect x="144.8" y="456.7" width="10" height="5.54" fill="#4c4ca3"/>
<rect x="134.8" y="462.24" width="10" height="5.54" fill="#e29a9e"/>
<rect x="144.8" y="462.24" width="10" height="5.54" fill="#4c4ca3"/>
<rect x="134.8" y="467.79" width="10" height="5.54" fill="#e4a2a7"/>
<rect x="144.8" y="467.79" width="10" height="5.54" fill="#26247a"/>
<rect x="134.8" y="473.33" width="10" height="5.54" fill="#e7abaf"/>
<rect x="144.8" y="473.33" width="10" height="5.54" fill="#26247a"/>
<rect x="134.8" y="478.88" width="10" height="5.54" fill="#e9b4b8"/>
<rect x="144.8" y="478.88" width="10" height="5.54" fill="#4c4ca3"/>
<rect x="134.8" y="484.42" width="10" height="5.54" fill="#e9b4b8"/>
<rect x="144.8" y="484.42" width="10" height="5.54" fill="#4c4ca3"/>
<rect x="134.8" y="489.96" width="10" height="5.54" fill="#e9b4b8"/>
<rect x="144.8" y="489.96" width="10" height="5.54" fill="#4c4ca3"/>
<rect x="134.8" y="495.51" width="10" height="5.54" fill="#e9b4b8"/>
<rect x="144.8" y="495.51" width="10" height="5.54" fill="#26247a"/>
<rect x="134.8" y="501.05" width="10" height="5.54" fill="#e9b4b8"/>
<rect x="144.8" y="501.05" width="10" height="5.54" fill="#4c4ca3"/>
<rect x="134.8" y="506.6" width="10" height="5.54" fill="#e9b4b8"/>
<rect x="144.8" y="506.6" width="10" height="5.54" fill="#26247a"/>
<rect x="134.8" y="512.14" width="10" height="5.54" fill="#e9b4b8"/>
<rect x="144.8" y="512.14" width="10" height="5.54" fill="#26247a"/>
<rect x="134.8" y="517.68" width="10" height="5.54" fill="#e9b4b8"/>
<rect x="144.8" y="517.68" width="10" height="5.54" fill="#26247a"/>
<rect x="134.8" y="523.23" width="10" height="5.54" fill="#e9b4b8"/>
<rect x="144.8" y="523.23" width="10" height="5.54" fill="#26247a"/>
<rect x="134.8" y="528.77" width="10" height="5.54" fill="#e9b4b8"/>
<rect x="144.8" y="528.77" width="10" height="5.54" fill="#4c4ca3"/>
<rect x="134.8" y="534.32" width="10" height="5.54" fill="#e9b4b8"/>
<rect x="144.8" y="534.32" width="10" height="5.54" fill="#26247a"/>
<rect x="134.8" y="539.86" width="10" height="5.54" fill="#e9b4b8"/>
<rect x="144.8" y="539.86" width="10" height="5.54" fill="#26247a"/>
<rect x="134.8" y="545.4" width="10" height="5.54" fill="#e9b4b8"/>
<rect x="144.8" y="545.4" width="10" height="5.54" fill="#26247a"/>
<rect x="134.8" y="550.95" width="10" height="5.54" fill="#e9b4b8"/>
<rect x="144.8" y="550.95" width="10" height="5.54" fill="#26247a"/>
<rect x="134.8" y="556.49" width="10" height="5.54" fill="#ebbabe"/>
<rect x="144.8" y="556.49" width="10" height="5.54" fill="#26247a"/>
<rect x="134.8" y="562.04" width="10" height="5.54" fill="#edc1c4"/>
<rect x="144.8" y="562.04" width="10" height="5.54" fill="#26247a"/>
<rect x="134.8" y="567.58" width="10" height="5.54" fill="#efc7ca"/>
<rect x="144.8" y="567.58" width="10" height="5.54" fill="#26247a"/>
<rect x="134.8" y="573.12" width="10" height="5.54" fill="#f1ced0"/>
<rect x="144.8" y="573.12" width="10" height="5.54" fill="#26247a"/>
<rect x="134.8" y="578.67" width="10" height="5.54" fill="#f3d4d6"/>
<rect x="144.8" y="578.67" width="10" height="5.54" fill="#26247a"/>
<rect x="134.8" y="584.21" width="10" height="5.54" fill="#f3d4d6"/>
<rect x="144.8" y="584.21" width="10" height="5.54" fill="#26247a"/>
<rect x="134.8" y="589.76" width="10" height="5.54" fill="#f3d4d6"/>
<rect x="144.8" y="589.76" width="10" height="5.54" fill="#26247a"/>
<rect x="134.8" y="595.3" width="10" height="5.54" fill="#aeaedc"/>
<rect x="144.8" y="595.3" width="10" height="5.54" fill="#cd5258"/>
<rect x="134.8" y="600.84" width="10" height="5.54" fill="#a1a1d6"/>
<rect x="144.8" y="600.84" width="10" height="5.54" fill="#cd5258"/>
<rect x="134.8" y="606.39" width="10" height="5.54" fill="#9999d2"/>
<rect x="144.8" y="606.39" width="10" height="5.54" fill="#cd5258"/>
<rect x="134.8" y="611.93" width="10" height="5.54" fill="#8484c7"/>
<rect x="144.8" y="611.93" width="10" height="5.54" fill="#dd888d"/>
<rect x="134.8" y="617.48" width="10" height="5.54" fill="#7a7ac2"/>
<rect x="144.8" y="617.48" width="10" height="5.54" fill="#dd888d"/>
<rect x="134.8" y="623.02" width="10" height="5.54" fill="#7a7ac2"/>
<rect x="144.8" y="623.02" width="10" height="5.54" fill="#dd888d"/>
<rect x="134.8" y="628.56" width="10" height="5.54" fill="#7a7ac2"/>
<rect x="144.8" y="628.56" width="10" height="5.54" fill="#cd5258"/>
<rect x="134.8" y="634.11" width="10" height="5.54" fill="#7171bc"/>
<rect x="144.8" y="634.11" width="10" height="5.54" fill="#cd5258"/>
<rect x="134.8" y="639.65" width="10" height="5.54" fill="#6868b6"/>
<rect x="144.8" y="639.65" width="10" height="5.54" fill="#dd888d"/>
<rect x="134.8" y="645.2" width="10" height="5.54" fill="#5e5eaf"/>
<rect x="144.8" y="645.2" width="10" height="5.54" fill="#dd888d"/>
<rect x="134.8" y="650.74" width="10" height="5.54" fill="#5555a9"/>
<rect x="144.8" y="650.74" width="10" height="5.54" fill="#cd5258"/>
<rect x="134.8" y="656.28" width="10" height="5.54" fill="#4c4ca3"/>
<rect x="144.8" y="656.28" width="10" height="5.54" fill="#dd888d"/>
<rect x="134.8" y="661.83" width="10" height="5.54" fill="#4c4ca3"/>
<rect x="144.8" y="661.83" width="10" height="5.54" fill="#dd888d"/>
<rect x="134.8" y="667.37" width="10" height="5.54" fill="#44449b"/>
<rect x="144.8" y="667.37" width="10" height="5.54" fill="#dd888d"/>
<rect x="134.8" y="672.92" width="10" height="5.54" fill="#3d3c93"/>
<rect x="144.8" y="672.92" width="10" height="5.54" fill="#dd888d"/>
<rect x="134.8" y="678.46" width="10" height="5.54" fill="#35348a"/>
<rect x="144.8" y="678.46" width="10" height="5.54" fill="#dd888d"/>
<rect x="134.8" y="684" width="10" height="5.54" fill="#2e2c82"/>
<rect x="144.8" y="684" width="10" height="5.54" fill="#e9b4b8"/>
<rect x="134.8" y="689.55" width="10" height="5.54" fill="#26247a"/>
<rect x="144.8" y="689.55" width="10" height="5.54" fill="#dd888d"/>
<rect x="134.8" y="695.09" width="10" height="5.54" fill="#26247a"/>
<rect x="144.8" y="695.09" width="10" height="5.54" fill="#dd888d"/>
<rect x="134.8" y="700.64" width="10" height="5.54" fill="#26247a"/>
<rect x="144.8" y="700.64" width="10" height="5.54" fill="#e9b4b8"/>
<rect x="134.8" y="706.18" width="10" height="5.54" fill="#26247a"/>
<rect x="144.8" y="706.18" width="10" height="5.54" fill="#e9b4b8"/>
<rect x="134.8" y="711.72" width="10" height="5.54" fill="#26247a"/>
<rect x="144.8" y="711.72" width="10" height="5.54" fill="#e9b4b8"/>
<rect x="134.8" y="717.27" width="10" height="5.54" fill="#26247a"/>
<rect x="144.8" y="717.27" width="10" height="5.54" fill="#e9b4b8"/>
<rect x="134.8" y="722.81" width="10" height="5.54" fill="#26247a"/>
<rect x="144.8" y="722.81" width="10" height="5.54" fill="#e9b4b8"/>
<rect x="134.8" y="728.36" width="10" height="5.54" fill="#26247a"/>
<rect x="144.8" y="728.36" width="10" height="5.54" fill="#e9b4b8"/>
<rect x="134.8" y="733.9" width="10" height="5.54" fill="#26247a"/>
<rect x="144.8" y="733.9" width="10" height="5.54" fill="#dd888d"/>
<rect x="134.8" y="739.44" width="10" height="5.54" fill="#26247a"/>
<rect x="144.8" y="739.44" width="10" height="5.54" fill="#dd888d"/>
<rect x="134.8" y="744.99" width="10" height="5.54" fill="#26247a"/>
<rect x="144.8" y="744.99" width="10" height="5.54" fill="#bc161c"/>
<rect x="134.8" y="750.53" width="10" height="5.54" fill="#26247a"/>
<rect x="144.8" y="750.53" width="10" height="5.54" fill="#f3d4d6"/>
<rect x="134.8" y="756.08" width="10" height="5.54" fill="#26247a"/>
<rect x="144.8" y="756.08" width="10" height="5.54" fill="#f3d4d6"/>
<rect x="134.8" y="761.62" width="10" height="5.54" fill="#26247a"/>
<rect x="144.8" y="761.62" width="10" height="5.54" fill="#f3d4d6"/>
<rect x="134.8" y="767.16" width="10" height="5.54" fill="#26247a"/>
<rect x="144.8" y="767.16" width="10" height="5.54" fill="#f3d4d6"/>
<rect x="134.8" y="772.71" width="10" height="5.54" fill="#26247a"/>
<rect x="144.8" y="772.71" width="10" height="5.54" fill="#f3d4d6"/>
<rect x="134.8" y="778.25" width="10" height="5.54" fill="#26247a"/>
<rect x="144.8" y="778.25" width="10" height="5.54" fill="#f3d4d6"/>
<rect x="134.8" y="783.8" width="10" height="5.54" fill="#26247a"/>
<rect x="144.8" y="783.8" width="10" height="5.54" fill="#f3d4d6"/>
<rect x="134.8" y="789.34" width="10" height="5.54" fill="#26247a"/>
<rect x="144.8" y="789.34" width="10" height="5.54" fill="#f3d4d6"/>
<rect x="134.8" y="794.88" width="10" height="5.54" fill="#26247a"/>
<rect x="144.8" y="794.88" width="10" height="5.54" fill="#f3d4d6"/>
<rect x="134.8" y="800.43" width="10" height="5.54" fill="#26247a"/>
<rect x="144.8" y="800.43" width="10" height="5.54" fill="#f3d4d6"/>
<rect x="134.8" y="805.97" width="10" height="5.54" fill="#26247a"/>
<rect x="144.8" y="805.97" width="10" height="5.54" fill="#f3d4d6"/>
<rect x="134.8" y="811.52" width="10" height="5.54" fill="#26247a"/>
<rect x="144.8" y="811.52" width="10" height="5.54" fill="#f3d4d6"/>
<rect x="134.8" y="817.06" width="10" height="5.54" fill="#26247a"/>
<rect x="144.8" y="817.06" width="10" height="5.54" fill="#f3d4d6"/>
<rect x="134.8" y="822.6" width="10" height="5.54" fill="#26247a"/>
<rect x="144.8" y="822.6" width="10" height="5.54" fill="#e9b4b8"/>
<rect x="134.8" y="828.15" width="10" height="5.54" fill="#26247a"/>
<rect x="144.8" y="828.15" width="10" height="5.54" fill="#e9b4b8"/>
<rect x="134.8" y="833.69" width="10" height="5.54" fill="#26247a"/>
<rect x="144.8" y="833.69" width="10" height="5.54" fill="#e9b4b8"/>
<rect x="134.8" y="839.24" width="10" height="5.54" fill="#26247a"/>
<rect x="144.8" y="839.24" width="10" height="5.54" fill="#e9b4b8"/>
<rect x="134.8" y="844.78" width="10" height="5.54" fill="#26247a"/>
<rect x="144.8" y="844.78" width="10" height="5.54" fill="#e9b4b8"/>
<rect x="134.8" y="850.32" width="10" height="5.54" fill="#26247a"/>
<rect x="144.8" y="850.32" width="10" height="5.54" fill="#e9b4b8"/>
<rect x="134.8" y="855.87" width="10" height="5.54" fill="#26247a"/>
<rect x="144.8" y="855.87" width="10" height="5.54" fill="#e9b4b8"/>
<rect x="134.8" y="861.41" width="10" height="5.54" fill="#26247a"/>
<rect x="144.8" y="861.41" width="10" height="5.54" fill="#e9b4b8"/>
<rect x="134.8" y="866.96" width="10" height="5.54" fill="#26247a"/>
<rect x="144.8" y="866.96" width="10" height="5.54" fill="#dd888d"/>
<path d="M112.2 318.1h42.6M112.2 323.64h42.6M112.2 329.19h42.6M112.2 334.73h42.6M112.2 340.28h42.6M112.2 345.82h42.6M112.2 351.36h42.6M112.2 356.91h42.6M112.2 362.45h42.6M112.2 368h42.6M112.2 373.54h42.6M112.2 379.08h42.6M112.2 384.63h42.6M112.2 390.17h42.6M112.2 395.72h42.6M112.2 401.26h42.6M112.2 406.8h42.6M112.2 412.35h42.6M112.2 417.89h42.6M112.2 423.44h42.6M112.2 428.98h42.6M112.2 434.52h42.6M112.2 440.07h42.6M112.2 445.61h42.6M112.2 451.16h42.6M112.2 456.7h42.6M112.2 462.24h42.6M112.2 467.79h42.6M112.2 473.33h42.6M112.2 478.88h42.6M112.2 484.42h42.6M112.2 489.96h42.6M112.2 495.51h42.6M112.2 501.05h42.6M112.2 506.6h42.6M112.2 512.14h42.6M112.2 517.68h42.6M112.2 523.23h42.6M112.2 528.77h42.6M112.2 534.32h42.6M112.2 539.86h42.6M112.2 545.4h42.6M112.2 550.95h42.6M112.2 556.49h42.6M112.2 562.04h42.6M112.2 567.58h42.6M112.2 573.12h42.6M112.2 578.67h42.6M112.2 584.21h42.6M112.2 589.76h42.6M112.2 595.3h42.6M112.2 600.84h42.6M112.2 606.39h42.6M112.2 611.93h42.6M112.2 617.48h42.6M112.2 623.02h42.6M112.2 628.56h42.6M112.2 634.11h42.6M112.2 639.65h42.6M112.2 645.2h42.6M112.2 650.74h42.6M112.2 656.28h42.6M112.2 661.83h42.6M112.2 667.37h42.6M112.2 672.92h42.6M112.2 678.46h42.6M112.2 684h42.6M112.2 689.55h42.6M112.2 695.09h42.6M112.2 700.64h42.6M112.2 706.18h42.6M112.2 711.72h42.6M112.2 717.27h42.6M112.2 722.81h42.6M112.2 728.36h42.6M112.2 733.9h42.6M112.2 739.44h42.6M112.2 744.99h42.6M112.2 750.53h42.6M112.2 756.08h42.6M112.2 761.62h42.6M112.2 767.16h42.6M112.2 772.71h42.6M112.2 778.25h42.6M112.2 783.8h42.6M112.2 789.34h42.6M112.2 794.88h42.6M112.2 800.43h42.6M112.2 805.97h42.6M112.2 811.52h42.6M112.2 817.06h42.6M112.2 822.6h42.6M112.2 828.15h42.6M112.2 833.69h42.6M112.2 839.24h42.6M112.2 844.78h42.6M112.2 850.32h42.6M112.2 855.87h42.6M112.2 861.41h42.6M112.2 866.96h42.6M112.2 872.5h42.6M112.2 318.1v554.4M117.85 318.1v554.4M123.5 318.1v554.4M129.15 318.1v554.4M134.8 318.1v554.4M144.8 318.1v554.4M154.8 318.1v554.4" stroke="#a0a0a0" stroke-width="0.7" fill="none"/>
<g font-size="5.6" stroke="#222" stroke-width="0.12"><text transform="translate(158.9 322.82) rotate(0.05)">GNLY</text><text transform="translate(158.9 328.36) rotate(0.05)">KLRD1</text><text transform="translate(158.9 333.89) rotate(0.05)">XCL1</text><text transform="translate(158.9 339.43) rotate(0.05)">KLRF1</text><text transform="translate(158.9 344.96) rotate(0.05)">XCL2</text><text transform="translate(158.9 350.5) rotate(0.05)">KLRC1</text><text transform="translate(158.9 356.03) rotate(0.05)">NCAM1</text><text transform="translate(158.9 361.57) rotate(0.05)">EOMES</text><text transform="translate(158.9 367.1) rotate(0.05)">IGFBP4</text><text transform="translate(158.9 372.64) rotate(0.05)">IL12RB2</text><text transform="translate(158.9 378.17) rotate(0.05)">KIR2DL4</text><text transform="translate(158.9 383.71) rotate(0.05)">PTGDR</text><text transform="translate(158.9 389.24) rotate(0.05)">RAMP1</text><text transform="translate(158.9 394.78) rotate(0.05)">SPTSSB</text><text transform="translate(158.9 400.31) rotate(0.05)">SPRY2</text><text transform="translate(158.9 405.85) rotate(0.05)">B3GNT7</text><text transform="translate(158.9 411.38) rotate(0.05)">PPP1R9A</text><text transform="translate(158.9 416.92) rotate(0.05)">ZMAT4</text><text transform="translate(158.9 422.45) rotate(0.05)">ATP8B4</text><text transform="translate(158.9 427.99) rotate(0.05)">PACSIN1</text><text transform="translate(158.9 433.52) rotate(0.05)">KLRC2</text><text transform="translate(158.9 439.06) rotate(0.05)">CDHR1</text><text transform="translate(158.9 444.59) rotate(0.05)">MYO7A</text><text transform="translate(158.9 450.13) rotate(0.05)">CABLES1</text><text transform="translate(158.9 455.66) rotate(0.05)">STYK1</text><text transform="translate(158.9 461.2) rotate(0.05)">RASSF8</text><text transform="translate(158.9 466.73) rotate(0.05)">COL24A1</text><text transform="translate(158.9 472.27) rotate(0.05)">TIE1</text><text transform="translate(158.9 477.8) rotate(0.05)">ZNF521</text><text transform="translate(158.9 483.34) rotate(0.05)">RAB38</text><text transform="translate(158.9 488.87) rotate(0.05)">DEPDC7</text><text transform="translate(158.9 494.41) rotate(0.05)">MIR9−3HG</text><text transform="translate(158.9 499.94) rotate(0.05)">RP5−1028K7.2</text><text transform="translate(158.9 505.48) rotate(0.05)">KCNK17</text><text transform="translate(158.9 511.01) rotate(0.05)">ITGAD</text><text transform="translate(158.9 516.55) rotate(0.05)">LINC01451</text><text transform="translate(158.9 522.08) rotate(0.05)">IFNG−AS1</text><text transform="translate(158.9 527.62) rotate(0.05)">SGSM1</text><text transform="translate(158.9 533.15) rotate(0.05)">RP4−738P11.4</text><text transform="translate(158.9 538.69) rotate(0.05)">DACH1</text><text transform="translate(158.9 544.22) rotate(0.05)">ENPP5</text><text transform="translate(158.9 549.76) rotate(0.05)">RP4−738P11.3</text><text transform="translate(158.9 555.29) rotate(0.05)">KLRC3</text><text transform="translate(158.9 560.83) rotate(0.05)">RP11−330A16.1</text><text transform="translate(158.9 566.36) rotate(0.05)">AC002383.2</text><text transform="translate(158.9 571.9) rotate(0.05)">CYTL1</text><text transform="translate(158.9 577.43) rotate(0.05)">SLITRK5</text><text transform="translate(158.9 582.97) rotate(0.05)">MAMDC2</text><text transform="translate(158.9 588.5) rotate(0.05)">NLRP7</text><text transform="translate(158.9 594.04) rotate(0.05)">KRT81</text><text transform="translate(158.9 599.57) rotate(0.05)">C10orf128</text><text transform="translate(158.9 605.11) rotate(0.05)">MBOAT2</text><text transform="translate(158.9 610.64) rotate(0.05)">CHDH</text><text transform="translate(158.9 616.18) rotate(0.05)">RBM47</text><text transform="translate(158.9 621.71) rotate(0.05)">PLCL1</text><text transform="translate(158.9 627.25) rotate(0.05)">CLIC4</text><text transform="translate(158.9 632.78) rotate(0.05)">NEFL</text><text transform="translate(158.9 638.32) rotate(0.05)">KRT1</text><text transform="translate(158.9 643.85) rotate(0.05)">NRIP3</text><text transform="translate(158.9 649.39) rotate(0.05)">DAPK1</text><text transform="translate(158.9 654.92) rotate(0.05)">TNFRSF19</text><text transform="translate(158.9 660.46) rotate(0.05)">IL2</text><text transform="translate(158.9 665.99) rotate(0.05)">ADGRB2</text><text transform="translate(158.9 671.53) rotate(0.05)">HLF</text><text transform="translate(158.9 677.06) rotate(0.05)">GRIP1</text><text transform="translate(158.9 682.6) rotate(0.05)">PKIB</text><text transform="translate(158.9 688.13) rotate(0.05)">SLC35G1</text><text transform="translate(158.9 693.67) rotate(0.05)">ZP1</text><text transform="translate(158.9 699.2) rotate(0.05)">PKP2</text><text transform="translate(158.9 704.74) rotate(0.05)">MAMLD1</text><text transform="translate(158.9 710.27) rotate(0.05)">PTPN13</text><text transform="translate(158.9 715.81) rotate(0.05)">SCN2A</text><text transform="translate(158.9 721.34) rotate(0.05)">KCNMA1</text><text transform="translate(158.9 726.88) rotate(0.05)">ZG16B</text><text transform="translate(158.9 732.41) rotate(0.05)">LGALS12</text><text transform="translate(158.9 737.95) rotate(0.05)">DSG2</text><text transform="translate(158.9 743.48) rotate(0.05)">ALS2CL</text><text transform="translate(158.9 749.02) rotate(0.05)">PTGDR2</text><text transform="translate(158.9 754.55) rotate(0.05)">FREM3</text><text transform="translate(158.9 760.09) rotate(0.05)">GJA1</text><text transform="translate(158.9 765.62) rotate(0.05)">LRP6</text><text transform="translate(158.9 771.16) rotate(0.05)">MCOLN3</text><text transform="translate(158.9 776.69) rotate(0.05)">MAFTRR</text><text transform="translate(158.9 782.23) rotate(0.05)">IL13</text><text transform="translate(158.9 787.76) rotate(0.05)">HAS2</text><text transform="translate(158.9 793.3) rotate(0.05)">ASAP3</text><text transform="translate(158.9 798.83) rotate(0.05)">ADAM23</text><text transform="translate(158.9 804.37) rotate(0.05)">IGSF9B</text><text transform="translate(158.9 809.9) rotate(0.05)">PPARG</text><text transform="translate(158.9 815.44) rotate(0.05)">GATA3−AS1</text><text transform="translate(158.9 820.97) rotate(0.05)">EVA1A</text><text transform="translate(158.9 826.51) rotate(0.05)">MAL2</text><text transform="translate(158.9 832.04) rotate(0.05)">HTR1F</text><text transform="translate(158.9 837.58) rotate(0.05)">CRLF2</text><text transform="translate(158.9 843.11) rotate(0.05)">DNER</text><text transform="translate(158.9 848.65) rotate(0.05)">SEMA5A</text><text transform="translate(158.9 854.18) rotate(0.05)">LINC01229</text><text transform="translate(158.9 859.72) rotate(0.05)">FSTL4</text><text transform="translate(158.9 865.25) rotate(0.05)">GAP43</text><text transform="translate(158.9 870.79) rotate(0.05)">HPGDS</text></g>
<g font-size="5.75"><text transform="translate(117.03 312.6) rotate(-89.95)">Metabolism</text><text transform="translate(122.68 312.6) rotate(-89.95)">Activation</text><text transform="translate(128.32 312.6) rotate(-89.95)">Migration</text><text transform="translate(133.97 312.6) rotate(-89.95)">Effector</text><text transform="translate(141.8 312.6) rotate(-89.95)">CD56+ ILC1-like</text><text transform="translate(151.8 312.6) rotate(-89.95)">ILC2</text></g>
<rect x="213.2" y="318.1" width="22.6" height="554.4" fill="#fff"/>
<path d="M218.85 323.64h5.65v5.54h-5.65ZM230.15 323.64h5.65v5.54h-5.65ZM213.2 329.19h5.65v5.54h-5.65ZM218.85 329.19h5.65v5.54h-5.65ZM230.15 329.19h5.65v5.54h-5.65ZM213.2 334.73h5.65v5.54h-5.65ZM213.2 340.28h5.65v5.54h-5.65ZM218.85 351.36h5.65v5.54h-5.65ZM213.2 368h5.65v5.54h-5.65ZM213.2 417.89h5.65v5.54h-5.65ZM213.2 434.52h5.65v5.54h-5.65ZM213.2 467.79h5.65v5.54h-5.65ZM213.2 478.88h5.65v5.54h-5.65ZM213.2 528.77h5.65v5.54h-5.65ZM213.2 534.32h5.65v5.54h-5.65ZM213.2 584.21h5.65v5.54h-5.65ZM230.15 600.84h5.65v5.54h-5.65ZM213.2 611.93h5.65v5.54h-5.65ZM230.15 611.93h5.65v5.54h-5.65ZM213.2 617.48h5.65v5.54h-5.65ZM213.2 623.02h5.65v5.54h-5.65ZM218.85 623.02h5.65v5.54h-5.65ZM224.5 623.02h5.65v5.54h-5.65ZM230.15 623.02h5.65v5.54h-5.65ZM213.2 628.56h5.65v5.54h-5.65ZM213.2 650.74h5.65v5.54h-5.65ZM213.2 667.37h5.65v5.54h-5.65ZM213.2 672.92h5.65v5.54h-5.65ZM213.2 684h5.65v5.54h-5.65ZM218.85 684h5.65v5.54h-5.65ZM230.15 684h5.65v5.54h-5.65ZM230.15 689.55h5.65v5.54h-5.65ZM213.2 706.18h5.65v5.54h-5.65ZM213.2 728.36h5.65v5.54h-5.65ZM213.2 733.9h5.65v5.54h-5.65ZM213.2 739.44h5.65v5.54h-5.65ZM213.2 750.53h5.65v5.54h-5.65ZM213.2 767.16h5.65v5.54h-5.65ZM213.2 783.8h5.65v5.54h-5.65ZM213.2 794.88h5.65v5.54h-5.65ZM213.2 811.52h5.65v5.54h-5.65ZM218.85 811.52h5.65v5.54h-5.65ZM213.2 817.06h5.65v5.54h-5.65ZM213.2 828.15h5.65v5.54h-5.65ZM213.2 833.69h5.65v5.54h-5.65ZM213.2 839.24h5.65v5.54h-5.65ZM213.2 844.78h5.65v5.54h-5.65ZM230.15 844.78h5.65v5.54h-5.65ZM213.2 855.87h5.65v5.54h-5.65ZM213.2 861.41h5.65v5.54h-5.65ZM213.2 866.96h5.65v5.54h-5.65Z" fill="#454545"/>
<rect x="235.8" y="318.1" width="10" height="5.54" fill="#c22a30"/>
<rect x="245.8" y="318.1" width="10" height="5.54" fill="#dedef0"/>
<rect x="235.8" y="323.64" width="10" height="5.54" fill="#c4343a"/>
<rect x="245.8" y="323.64" width="10" height="5.54" fill="#ffffff"/>
<rect x="235.8" y="329.19" width="10" height="5.54" fill="#c63a40"/>
<rect x="245.8" y="329.19" width="10" height="5.54" fill="#aeaedc"/>
<rect x="235.8" y="334.73" width="10" height="5.54" fill="#ca464c"/>
<rect x="245.8" y="334.73" width="10" height="5.54" fill="#dedef0"/>
<rect x="235.8" y="340.28" width="10" height="5.54" fill="#cd5258"/>
<rect x="245.8" y="340.28" width="10" height="5.54" fill="#dedef0"/>
<rect x="235.8" y="345.82" width="10" height="5.54" fill="#d26267"/>
<rect x="245.8" y="345.82" width="10" height="5.54" fill="#7a7ac2"/>
<rect x="235.8" y="351.36" width="10" height="5.54" fill="#d67177"/>
<rect x="245.8" y="351.36" width="10" height="5.54" fill="#aeaedc"/>
<rect x="235.8" y="356.91" width="10" height="5.54" fill="#db8186"/>
<rect x="245.8" y="356.91" width="10" height="5.54" fill="#26247a"/>
<rect x="235.8" y="362.45" width="10" height="5.54" fill="#df8f94"/>
<rect x="245.8" y="362.45" width="10" height="5.54" fill="#4c4ca3"/>
<rect x="235.8" y="368" width="10" height="5.54" fill="#e29ca0"/>
<rect x="245.8" y="368" width="10" height="5.54" fill="#4c4ca3"/>
<rect x="235.8" y="373.54" width="10" height="5.54" fill="#e29ca0"/>
<rect x="245.8" y="373.54" width="10" height="5.54" fill="#26247a"/>
<rect x="235.8" y="379.08" width="10" height="5.54" fill="#e29ca0"/>
<rect x="245.8" y="379.08" width="10" height="5.54" fill="#26247a"/>
<rect x="235.8" y="384.63" width="10" height="5.54" fill="#e29ca0"/>
<rect x="245.8" y="384.63" width="10" height="5.54" fill="#7a7ac2"/>
<rect x="235.8" y="390.17" width="10" height="5.54" fill="#e29ca0"/>
<rect x="245.8" y="390.17" width="10" height="5.54" fill="#4c4ca3"/>
<rect x="235.8" y="395.72" width="10" height="5.54" fill="#e29ca0"/>
<rect x="245.8" y="395.72" width="10" height="5.54" fill="#4c4ca3"/>
<rect x="235.8" y="401.26" width="10" height="5.54" fill="#e29ca0"/>
<rect x="245.8" y="401.26" width="10" height="5.54" fill="#26247a"/>
<rect x="235.8" y="406.8" width="10" height="5.54" fill="#e29ca0"/>
<rect x="245.8" y="406.8" width="10" height="5.54" fill="#7a7ac2"/>
<rect x="235.8" y="412.35" width="10" height="5.54" fill="#e29ca0"/>
<rect x="245.8" y="412.35" width="10" height="5.54" fill="#7a7ac2"/>
<rect x="235.8" y="417.89" width="10" height="5.54" fill="#e29ca0"/>
<rect x="245.8" y="417.89" width="10" height="5.54" fill="#7a7ac2"/>
<rect x="235.8" y="423.44" width="10" height="5.54" fill="#e29ca0"/>
<rect x="245.8" y="423.44" width="10" height="5.54" fill="#7a7ac2"/>
<rect x="235.8" y="428.98" width="10" height="5.54" fill="#e4a3a8"/>
<rect x="245.8" y="428.98" width="10" height="5.54" fill="#26247a"/>
<rect x="235.8" y="434.52" width="10" height="5.54" fill="#e6abaf"/>
<rect x="245.8" y="434.52" width="10" height="5.54" fill="#4c4ca3"/>
<rect x="235.8" y="440.07" width="10" height="5.54" fill="#e9b2b6"/>
<rect x="245.8" y="440.07" width="10" height="5.54" fill="#26247a"/>
<rect x="235.8" y="445.61" width="10" height="5.54" fill="#eab8bc"/>
<rect x="245.8" y="445.61" width="10" height="5.54" fill="#26247a"/>
<rect x="235.8" y="451.16" width="10" height="5.54" fill="#ecbec1"/>
<rect x="245.8" y="451.16" width="10" height="5.54" fill="#7a7ac2"/>
<rect x="235.8" y="456.7" width="10" height="5.54" fill="#ecbec1"/>
<rect x="245.8" y="456.7" width="10" height="5.54" fill="#4c4ca3"/>
<rect x="235.8" y="462.24" width="10" height="5.54" fill="#ecbec1"/>
<rect x="245.8" y="462.24" width="10" height="5.54" fill="#7a7ac2"/>
<rect x="235.8" y="467.79" width="10" height="5.54" fill="#ecbec1"/>
<rect x="245.8" y="467.79" width="10" height="5.54" fill="#26247a"/>
<rect x="235.8" y="473.33" width="10" height="5.54" fill="#eec3c6"/>
<rect x="245.8" y="473.33" width="10" height="5.54" fill="#4c4ca3"/>
<rect x="235.8" y="478.88" width="10" height="5.54" fill="#efc8cb"/>
<rect x="245.8" y="478.88" width="10" height="5.54" fill="#4c4ca3"/>
<rect x="235.8" y="484.42" width="10" height="5.54" fill="#f1ced0"/>
<rect x="245.8" y="484.42" width="10" height="5.54" fill="#26247a"/>
<rect x="235.8" y="489.96" width="10" height="5.54" fill="#f3d3d5"/>
<rect x="245.8" y="489.96" width="10" height="5.54" fill="#4c4ca3"/>
<rect x="235.8" y="495.51" width="10" height="5.54" fill="#f5dadc"/>
<rect x="245.8" y="495.51" width="10" height="5.54" fill="#26247a"/>
<rect x="235.8" y="501.05" width="10" height="5.54" fill="#f5dadc"/>
<rect x="245.8" y="501.05" width="10" height="5.54" fill="#4c4ca3"/>
<rect x="235.8" y="506.6" width="10" height="5.54" fill="#f5dadc"/>
<rect x="245.8" y="506.6" width="10" height="5.54" fill="#26247a"/>
<rect x="235.8" y="512.14" width="10" height="5.54" fill="#f5dadc"/>
<rect x="245.8" y="512.14" width="10" height="5.54" fill="#26247a"/>
<rect x="235.8" y="517.68" width="10" height="5.54" fill="#f5dadc"/>
<rect x="245.8" y="517.68" width="10" height="5.54" fill="#4c4ca3"/>
<rect x="235.8" y="523.23" width="10" height="5.54" fill="#f5dadc"/>
<rect x="245.8" y="523.23" width="10" height="5.54" fill="#26247a"/>
<rect x="235.8" y="528.77" width="10" height="5.54" fill="#f5dadc"/>
<rect x="245.8" y="528.77" width="10" height="5.54" fill="#26247a"/>
<rect x="235.8" y="534.32" width="10" height="5.54" fill="#f7e2e3"/>
<rect x="245.8" y="534.32" width="10" height="5.54" fill="#26247a"/>
<rect x="235.8" y="539.86" width="10" height="5.54" fill="#f9e9ea"/>
<rect x="245.8" y="539.86" width="10" height="5.54" fill="#26247a"/>
<rect x="235.8" y="545.4" width="10" height="5.54" fill="#fbf0f1"/>
<rect x="245.8" y="545.4" width="10" height="5.54" fill="#26247a"/>
<rect x="235.8" y="550.95" width="10" height="5.54" fill="#fdf8f8"/>
<rect x="245.8" y="550.95" width="10" height="5.54" fill="#26247a"/>
<rect x="235.8" y="556.49" width="10" height="5.54" fill="#ffffff"/>
<rect x="245.8" y="556.49" width="10" height="5.54" fill="#26247a"/>
<rect x="235.8" y="562.04" width="10" height="5.54" fill="#ffffff"/>
<rect x="245.8" y="562.04" width="10" height="5.54" fill="#26247a"/>
<rect x="235.8" y="567.58" width="10" height="5.54" fill="#ffffff"/>
<rect x="245.8" y="567.58" width="10" height="5.54" fill="#26247a"/>
<rect x="235.8" y="573.12" width="10" height="5.54" fill="#ffffff"/>
<rect x="245.8" y="573.12" width="10" height="5.54" fill="#26247a"/>
<rect x="235.8" y="578.67" width="10" height="5.54" fill="#ffffff"/>
<rect x="245.8" y="578.67" width="10" height="5.54" fill="#26247a"/>
<rect x="235.8" y="584.21" width="10" height="5.54" fill="#ffffff"/>
<rect x="245.8" y="584.21" width="10" height="5.54" fill="#26247a"/>
<rect x="235.8" y="589.76" width="10" height="5.54" fill="#ffffff"/>
<rect x="245.8" y="589.76" width="10" height="5.54" fill="#26247a"/>
<rect x="235.8" y="595.3" width="10" height="5.54" fill="#9d9dd3"/>
<rect x="245.8" y="595.3" width="10" height="5.54" fill="#bc161c"/>
<rect x="235.8" y="600.84" width="10" height="5.54" fill="#9494cf"/>
<rect x="245.8" y="600.84" width="10" height="5.54" fill="#cd5258"/>
<rect x="235.8" y="606.39" width="10" height="5.54" fill="#8f8fcc"/>
<rect x="245.8" y="606.39" width="10" height="5.54" fill="#cd5258"/>
<rect x="235.8" y="611.93" width="10" height="5.54" fill="#7a7ac2"/>
<rect x="245.8" y="611.93" width="10" height="5.54" fill="#dd888d"/>
<rect x="235.8" y="617.48" width="10" height="5.54" fill="#7a7ac2"/>
<rect x="245.8" y="617.48" width="10" height="5.54" fill="#dd888d"/>
<rect x="235.8" y="623.02" width="10" height="5.54" fill="#7171bc"/>
<rect x="245.8" y="623.02" width="10" height="5.54" fill="#dd888d"/>
<rect x="235.8" y="628.56" width="10" height="5.54" fill="#6868b6"/>
<rect x="245.8" y="628.56" width="10" height="5.54" fill="#dd888d"/>
<rect x="235.8" y="634.11" width="10" height="5.54" fill="#5e5eaf"/>
<rect x="245.8" y="634.11" width="10" height="5.54" fill="#cd5258"/>
<rect x="235.8" y="639.65" width="10" height="5.54" fill="#4c4ca3"/>
<rect x="245.8" y="639.65" width="10" height="5.54" fill="#dd888d"/>
<rect x="235.8" y="645.2" width="10" height="5.54" fill="#3d3c93"/>
<rect x="245.8" y="645.2" width="10" height="5.54" fill="#dd888d"/>
<rect x="235.8" y="650.74" width="10" height="5.54" fill="#35348a"/>
<rect x="245.8" y="650.74" width="10" height="5.54" fill="#dd888d"/>
<rect x="235.8" y="656.28" width="10" height="5.54" fill="#2e2c82"/>
<rect x="245.8" y="656.28" width="10" height="5.54" fill="#e9b4b8"/>
<rect x="235.8" y="661.83" width="10" height="5.54" fill="#26247a"/>
<rect x="245.8" y="661.83" width="10" height="5.54" fill="#e9b4b8"/>
<rect x="235.8" y="667.37" width="10" height="5.54" fill="#26247a"/>
<rect x="245.8" y="667.37" width="10" height="5.54" fill="#e9b4b8"/>
<rect x="235.8" y="672.92" width="10" height="5.54" fill="#26247a"/>
<rect x="245.8" y="672.92" width="10" height="5.54" fill="#e9b4b8"/>
<rect x="235.8" y="678.46" width="10" height="5.54" fill="#26247a"/>
<rect x="245.8" y="678.46" width="10" height="5.54" fill="#e9b4b8"/>
<rect x="235.8" y="684" width="10" height="5.54" fill="#26247a"/>
<rect x="245.8" y="684" width="10" height="5.54" fill="#e9b4b8"/>
<rect x="235.8" y="689.55" width="10" height="5.54" fill="#26247a"/>
<rect x="245.8" y="689.55" width="10" height="5.54" fill="#e9b4b8"/>
<rect x="235.8" y="695.09" width="10" height="5.54" fill="#26247a"/>
<rect x="245.8" y="695.09" width="10" height="5.54" fill="#e9b4b8"/>
<rect x="235.8" y="700.64" width="10" height="5.54" fill="#26247a"/>
<rect x="245.8" y="700.64" width="10" height="5.54" fill="#e9b4b8"/>
<rect x="235.8" y="706.18" width="10" height="5.54" fill="#26247a"/>
<rect x="245.8" y="706.18" width="10" height="5.54" fill="#dd888d"/>
<rect x="235.8" y="711.72" width="10" height="5.54" fill="#26247a"/>
<rect x="245.8" y="711.72" width="10" height="5.54" fill="#cd5258"/>
<rect x="235.8" y="717.27" width="10" height="5.54" fill="#26247a"/>
<rect x="245.8" y="717.27" width="10" height="5.54" fill="#f3d4d6"/>
<rect x="235.8" y="722.81" width="10" height="5.54" fill="#26247a"/>
<rect x="245.8" y="722.81" width="10" height="5.54" fill="#f3d4d6"/>
<rect x="235.8" y="728.36" width="10" height="5.54" fill="#26247a"/>
<rect x="245.8" y="728.36" width="10" height="5.54" fill="#f3d4d6"/>
<rect x="235.8" y="733.9" width="10" height="5.54" fill="#26247a"/>
<rect x="245.8" y="733.9" width="10" height="5.54" fill="#f3d4d6"/>
<rect x="235.8" y="739.44" width="10" height="5.54" fill="#26247a"/>
<rect x="245.8" y="739.44" width="10" height="5.54" fill="#f3d4d6"/>
<rect x="235.8" y="744.99" width="10" height="5.54" fill="#26247a"/>
<rect x="245.8" y="744.99" width="10" height="5.54" fill="#f3d4d6"/>
<rect x="235.8" y="750.53" width="10" height="5.54" fill="#26247a"/>
<rect x="245.8" y="750.53" width="10" height="5.54" fill="#f3d4d6"/>
<rect x="235.8" y="756.08" width="10" height="5.54" fill="#26247a"/>
<rect x="245.8" y="756.08" width="10" height="5.54" fill="#f3d4d6"/>
<rect x="235.8" y="761.62" width="10" height="5.54" fill="#26247a"/>
<rect x="245.8" y="761.62" width="10" height="5.54" fill="#f3d4d6"/>
<rect x="235.8" y="767.16" width="10" height="5.54" fill="#26247a"/>
<rect x="245.8" y="767.16" width="10" height="5.54" fill="#f3d4d6"/>
<rect x="235.8" y="772.71" width="10" height="5.54" fill="#26247a"/>
<rect x="245.8" y="772.71" width="10" height="5.54" fill="#f3d4d6"/>
<rect x="235.8" y="778.25" width="10" height="5.54" fill="#26247a"/>
<rect x="245.8" y="778.25" width="10" height="5.54" fill="#f3d4d6"/>
<rect x="235.8" y="783.8" width="10" height="5.54" fill="#26247a"/>
<rect x="245.8" y="783.8" width="10" height="5.54" fill="#f3d4d6"/>
<rect x="235.8" y="789.34" width="10" height="5.54" fill="#26247a"/>
<rect x="245.8" y="789.34" width="10" height="5.54" fill="#f3d4d6"/>
<rect x="235.8" y="794.88" width="10" height="5.54" fill="#26247a"/>
<rect x="245.8" y="794.88" width="10" height="5.54" fill="#f3d4d6"/>
<rect x="235.8" y="800.43" width="10" height="5.54" fill="#26247a"/>
<rect x="245.8" y="800.43" width="10" height="5.54" fill="#f3d4d6"/>
<rect x="235.8" y="805.97" width="10" height="5.54" fill="#26247a"/>
<rect x="245.8" y="805.97" width="10" height="5.54" fill="#f3d4d6"/>
<rect x="235.8" y="811.52" width="10" height="5.54" fill="#26247a"/>
<rect x="245.8" y="811.52" width="10" height="5.54" fill="#e9b4b8"/>
<rect x="235.8" y="817.06" width="10" height="5.54" fill="#26247a"/>
<rect x="245.8" y="817.06" width="10" height="5.54" fill="#e9b4b8"/>
<rect x="235.8" y="822.6" width="10" height="5.54" fill="#26247a"/>
<rect x="245.8" y="822.6" width="10" height="5.54" fill="#e9b4b8"/>
<rect x="235.8" y="828.15" width="10" height="5.54" fill="#26247a"/>
<rect x="245.8" y="828.15" width="10" height="5.54" fill="#e9b4b8"/>
<rect x="235.8" y="833.69" width="10" height="5.54" fill="#26247a"/>
<rect x="245.8" y="833.69" width="10" height="5.54" fill="#e9b4b8"/>
<rect x="235.8" y="839.24" width="10" height="5.54" fill="#26247a"/>
<rect x="245.8" y="839.24" width="10" height="5.54" fill="#e9b4b8"/>
<rect x="235.8" y="844.78" width="10" height="5.54" fill="#26247a"/>
<rect x="245.8" y="844.78" width="10" height="5.54" fill="#dd888d"/>
<rect x="235.8" y="850.32" width="10" height="5.54" fill="#26247a"/>
<rect x="245.8" y="850.32" width="10" height="5.54" fill="#dd888d"/>
<rect x="235.8" y="855.87" width="10" height="5.54" fill="#26247a"/>
<rect x="245.8" y="855.87" width="10" height="5.54" fill="#dd888d"/>
<rect x="235.8" y="861.41" width="10" height="5.54" fill="#26247a"/>
<rect x="245.8" y="861.41" width="10" height="5.54" fill="#dd888d"/>
<rect x="235.8" y="866.96" width="10" height="5.54" fill="#26247a"/>
<rect x="245.8" y="866.96" width="10" height="5.54" fill="#bc161c"/>
<path d="M213.2 318.1h42.6M213.2 323.64h42.6M213.2 329.19h42.6M213.2 334.73h42.6M213.2 340.28h42.6M213.2 345.82h42.6M213.2 351.36h42.6M213.2 356.91h42.6M213.2 362.45h42.6M213.2 368h42.6M213.2 373.54h42.6M213.2 379.08h42.6M213.2 384.63h42.6M213.2 390.17h42.6M213.2 395.72h42.6M213.2 401.26h42.6M213.2 406.8h42.6M213.2 412.35h42.6M213.2 417.89h42.6M213.2 423.44h42.6M213.2 428.98h42.6M213.2 434.52h42.6M213.2 440.07h42.6M213.2 445.61h42.6M213.2 451.16h42.6M213.2 456.7h42.6M213.2 462.24h42.6M213.2 467.79h42.6M213.2 473.33h42.6M213.2 478.88h42.6M213.2 484.42h42.6M213.2 489.96h42.6M213.2 495.51h42.6M213.2 501.05h42.6M213.2 506.6h42.6M213.2 512.14h42.6M213.2 517.68h42.6M213.2 523.23h42.6M213.2 528.77h42.6M213.2 534.32h42.6M213.2 539.86h42.6M213.2 545.4h42.6M213.2 550.95h42.6M213.2 556.49h42.6M213.2 562.04h42.6M213.2 567.58h42.6M213.2 573.12h42.6M213.2 578.67h42.6M213.2 584.21h42.6M213.2 589.76h42.6M213.2 595.3h42.6M213.2 600.84h42.6M213.2 606.39h42.6M213.2 611.93h42.6M213.2 617.48h42.6M213.2 623.02h42.6M213.2 628.56h42.6M213.2 634.11h42.6M213.2 639.65h42.6M213.2 645.2h42.6M213.2 650.74h42.6M213.2 656.28h42.6M213.2 661.83h42.6M213.2 667.37h42.6M213.2 672.92h42.6M213.2 678.46h42.6M213.2 684h42.6M213.2 689.55h42.6M213.2 695.09h42.6M213.2 700.64h42.6M213.2 706.18h42.6M213.2 711.72h42.6M213.2 717.27h42.6M213.2 722.81h42.6M213.2 728.36h42.6M213.2 733.9h42.6M213.2 739.44h42.6M213.2 744.99h42.6M213.2 750.53h42.6M213.2 756.08h42.6M213.2 761.62h42.6M213.2 767.16h42.6M213.2 772.71h42.6M213.2 778.25h42.6M213.2 783.8h42.6M213.2 789.34h42.6M213.2 794.88h42.6M213.2 800.43h42.6M213.2 805.97h42.6M213.2 811.52h42.6M213.2 817.06h42.6M213.2 822.6h42.6M213.2 828.15h42.6M213.2 833.69h42.6M213.2 839.24h42.6M213.2 844.78h42.6M213.2 850.32h42.6M213.2 855.87h42.6M213.2 861.41h42.6M213.2 866.96h42.6M213.2 872.5h42.6M213.2 318.1v554.4M218.85 318.1v554.4M224.5 318.1v554.4M230.15 318.1v554.4M235.8 318.1v554.4M245.8 318.1v554.4M255.8 318.1v554.4" stroke="#a0a0a0" stroke-width="0.7" fill="none"/>
<g font-size="5.6" stroke="#222" stroke-width="0.12"><text transform="translate(259.9 322.82) rotate(0.05)">KIR2DL4</text><text transform="translate(259.9 328.36) rotate(0.05)">SLAMF7</text><text transform="translate(259.9 333.89) rotate(0.05)">FCRL3</text><text transform="translate(259.9 339.43) rotate(0.05)">ENC1</text><text transform="translate(259.9 344.96) rotate(0.05)">SCD</text><text transform="translate(259.9 350.5) rotate(0.05)">MIR9−3HG</text><text transform="translate(259.9 356.03) rotate(0.05)">TIGIT</text><text transform="translate(259.9 361.57) rotate(0.05)">ENPP5</text><text transform="translate(259.9 367.1) rotate(0.05)">DTHD1</text><text transform="translate(259.9 372.64) rotate(0.05)">WNT10B</text><text transform="translate(259.9 378.17) rotate(0.05)">NCS1</text><text transform="translate(259.9 383.71) rotate(0.05)">SLITRK5</text><text transform="translate(259.9 389.24) rotate(0.05)">KIR3DL2</text><text transform="translate(259.9 394.78) rotate(0.05)">MAMDC2</text><text transform="translate(259.9 400.31) rotate(0.05)">TLR5</text><text transform="translate(259.9 405.85) rotate(0.05)">TRO</text><text transform="translate(259.9 411.38) rotate(0.05)">KIR2DL1</text><text transform="translate(259.9 416.92) rotate(0.05)">MCC</text><text transform="translate(259.9 422.45) rotate(0.05)">GEMIN6</text><text transform="translate(259.9 427.99) rotate(0.05)">EPS8L1</text><text transform="translate(259.9 433.52) rotate(0.05)">IL1RL1</text><text transform="translate(259.9 439.06) rotate(0.05)">RIMKLA</text><text transform="translate(259.9 444.59) rotate(0.05)">AC079779.7</text><text transform="translate(259.9 450.13) rotate(0.05)">RP11−629G13.1</text><text transform="translate(259.9 455.66) rotate(0.05)">PLCG1−AS1</text><text transform="translate(259.9 461.2) rotate(0.05)">NTNG2</text><text transform="translate(259.9 466.73) rotate(0.05)">CASC8</text><text transform="translate(259.9 472.27) rotate(0.05)">EPB41L5</text><text transform="translate(259.9 477.8) rotate(0.05)">SEPT8</text><text transform="translate(259.9 483.34) rotate(0.05)">PM20D1</text><text transform="translate(259.9 488.87) rotate(0.05)">SEC1P</text><text transform="translate(259.9 494.41) rotate(0.05)">KIAA1161</text><text transform="translate(259.9 499.94) rotate(0.05)">TLCD2</text><text transform="translate(259.9 505.48) rotate(0.05)">NHS</text><text transform="translate(259.9 511.01) rotate(0.05)">RWDD2A</text><text transform="translate(259.9 516.55) rotate(0.05)">ANKRD18EP</text><text transform="translate(259.9 522.08) rotate(0.05)">KCNK12</text><text transform="translate(259.9 527.62) rotate(0.05)">ALS2CR12</text><text transform="translate(259.9 533.15) rotate(0.05)">EFNA5</text><text transform="translate(259.9 538.69) rotate(0.05)">DAB1</text><text transform="translate(259.9 544.22) rotate(0.05)">HEATR9</text><text transform="translate(259.9 549.76) rotate(0.05)">KB−1460A1.5</text><text transform="translate(259.9 555.29) rotate(0.05)">AF131215.4</text><text transform="translate(259.9 560.83) rotate(0.05)">INSC</text><text transform="translate(259.9 566.36) rotate(0.05)">RP11−3D4.3</text><text transform="translate(259.9 571.9) rotate(0.05)">RP11−543C4.1</text><text transform="translate(259.9 577.43) rotate(0.05)">LINC00943</text><text transform="translate(259.9 582.97) rotate(0.05)">MPP2</text><text transform="translate(259.9 588.5) rotate(0.05)">TDRD9</text><text transform="translate(259.9 594.04) rotate(0.05)">IGLV2−18</text><text transform="translate(259.9 599.57) rotate(0.05)">MATN2</text><text transform="translate(259.9 605.11) rotate(0.05)">CADM1</text><text transform="translate(259.9 610.64) rotate(0.05)">CLIC4</text><text transform="translate(259.9 616.18) rotate(0.05)">KRT1</text><text transform="translate(259.9 621.71) rotate(0.05)">DAPK1</text><text transform="translate(259.9 627.25) rotate(0.05)">IL1B</text><text transform="translate(259.9 632.78) rotate(0.05)">THAP9</text><text transform="translate(259.9 638.32) rotate(0.05)">ADGRD1</text><text transform="translate(259.9 643.85) rotate(0.05)">RAPH1</text><text transform="translate(259.9 649.39) rotate(0.05)">CTD−2527I21.9</text><text transform="translate(259.9 654.92) rotate(0.05)">RBMS3</text><text transform="translate(259.9 660.46) rotate(0.05)">RP11−146I2.1</text><text transform="translate(259.9 665.99) rotate(0.05)">GNG4</text><text transform="translate(259.9 671.53) rotate(0.05)">ABCG2</text><text transform="translate(259.9 677.06) rotate(0.05)">EPHB3</text><text transform="translate(259.9 682.6) rotate(0.05)">PTGDR2</text><text transform="translate(259.9 688.13) rotate(0.05)">MYB</text><text transform="translate(259.9 693.67) rotate(0.05)">CRISPLD2</text><text transform="translate(259.9 699.2) rotate(0.05)">LINGO4</text><text transform="translate(259.9 704.74) rotate(0.05)">ZG16B</text><text transform="translate(259.9 710.27) rotate(0.05)">HPN</text><text transform="translate(259.9 715.81) rotate(0.05)">ALS2CL</text><text transform="translate(259.9 721.34) rotate(0.05)">NETO2</text><text transform="translate(259.9 726.88) rotate(0.05)">ZNF385C</text><text transform="translate(259.9 732.41) rotate(0.05)">SMARCA1</text><text transform="translate(259.9 737.95) rotate(0.05)">SOST</text><text transform="translate(259.9 743.48) rotate(0.05)">KANK2</text><text transform="translate(259.9 749.02) rotate(0.05)">FAM64A</text><text transform="translate(259.9 754.55) rotate(0.05)">MYBL2</text><text transform="translate(259.9 760.09) rotate(0.05)">ABCA9</text><text transform="translate(259.9 765.62) rotate(0.05)">LINC01229</text><text transform="translate(259.9 771.16) rotate(0.05)">B3GALT5</text><text transform="translate(259.9 776.69) rotate(0.05)">RP5−1086K13.1</text><text transform="translate(259.9 782.23) rotate(0.05)">CDH4</text><text transform="translate(259.9 787.76) rotate(0.05)">MALRD1</text><text transform="translate(259.9 793.3) rotate(0.05)">RP11−108K14.12</text><text transform="translate(259.9 798.83) rotate(0.05)">CYP26C1</text><text transform="translate(259.9 804.37) rotate(0.05)">SAPCD2</text><text transform="translate(259.9 809.9) rotate(0.05)">FAM189A2</text><text transform="translate(259.9 815.44) rotate(0.05)">FLT3</text><text transform="translate(259.9 820.97) rotate(0.05)">JADE3</text><text transform="translate(259.9 826.51) rotate(0.05)">TSPAN13</text><text transform="translate(259.9 832.04) rotate(0.05)">TFPI</text><text transform="translate(259.9 837.58) rotate(0.05)">TTLL7</text><text transform="translate(259.9 843.11) rotate(0.05)">DNER</text><text transform="translate(259.9 848.65) rotate(0.05)">ANPEP</text><text transform="translate(259.9 854.18) rotate(0.05)">SLCO2A1</text><text transform="translate(259.9 859.72) rotate(0.05)">TRH</text><text transform="translate(259.9 865.25) rotate(0.05)">APOL4</text><text transform="translate(259.9 870.79) rotate(0.05)">TGM2</text></g>
<g font-size="5.75"><text transform="translate(218.02 312.6) rotate(-89.95)">Metabolism</text><text transform="translate(223.67 312.6) rotate(-89.95)">Activation</text><text transform="translate(229.32 312.6) rotate(-89.95)">Migration</text><text transform="translate(234.97 312.6) rotate(-89.95)">Effector</text><text transform="translate(242.8 312.6) rotate(-89.95)">CD56+ ILC1-like</text><text transform="translate(252.8 312.6) rotate(-89.95)">ILCP</text></g>
<rect x="317.2" y="318.1" width="22.6" height="554.4" fill="#fff"/>
<path d="M317.2 318.1h5.65v5.54h-5.65ZM334.15 318.1h5.65v5.54h-5.65ZM317.2 323.64h5.65v5.54h-5.65ZM328.5 323.64h5.65v5.54h-5.65ZM334.15 323.64h5.65v5.54h-5.65ZM317.2 329.19h5.65v5.54h-5.65ZM328.5 329.19h5.65v5.54h-5.65ZM334.15 329.19h5.65v5.54h-5.65ZM322.85 334.73h5.65v5.54h-5.65ZM317.2 345.82h5.65v5.54h-5.65ZM322.85 345.82h5.65v5.54h-5.65ZM328.5 345.82h5.65v5.54h-5.65ZM334.15 345.82h5.65v5.54h-5.65ZM322.85 351.36h5.65v5.54h-5.65ZM317.2 356.91h5.65v5.54h-5.65ZM322.85 356.91h5.65v5.54h-5.65ZM334.15 356.91h5.65v5.54h-5.65ZM328.5 362.45h5.65v5.54h-5.65ZM334.15 362.45h5.65v5.54h-5.65ZM317.2 373.54h5.65v5.54h-5.65ZM322.85 373.54h5.65v5.54h-5.65ZM334.15 373.54h5.65v5.54h-5.65ZM317.2 379.08h5.65v5.54h-5.65ZM328.5 379.08h5.65v5.54h-5.65ZM334.15 379.08h5.65v5.54h-5.65ZM317.2 384.63h5.65v5.54h-5.65ZM328.5 384.63h5.65v5.54h-5.65ZM317.2 390.17h5.65v5.54h-5.65ZM322.85 401.26h5.65v5.54h-5.65ZM322.85 406.8h5.65v5.54h-5.65ZM334.15 406.8h5.65v5.54h-5.65ZM317.2 412.35h5.65v5.54h-5.65ZM322.85 423.44h5.65v5.54h-5.65ZM317.2 434.52h5.65v5.54h-5.65ZM322.85 434.52h5.65v5.54h-5.65ZM334.15 434.52h5.65v5.54h-5.65ZM317.2 445.61h5.65v5.54h-5.65ZM322.85 451.16h5.65v5.54h-5.65ZM317.2 462.24h5.65v5.54h-5.65ZM334.15 462.24h5.65v5.54h-5.65ZM317.2 467.79h5.65v5.54h-5.65ZM334.15 467.79h5.65v5.54h-5.65ZM317.2 473.33h5.65v5.54h-5.65ZM322.85 473.33h5.65v5.54h-5.65ZM334.15 473.33h5.65v5.54h-5.65ZM317.2 478.88h5.65v5.54h-5.65ZM317.2 484.42h5.65v5.54h-5.65ZM317.2 489.96h5.65v5.54h-5.65ZM317.2 495.51h5.65v5.54h-5.65ZM317.2 501.05h5.65v5.54h-5.65ZM322.85 501.05h5.65v5.54h-5.65ZM334.15 501.05h5.65v5.54h-5.65ZM317.2 506.6h5.65v5.54h-5.65ZM317.2 517.68h5.65v5.54h-5.65ZM334.15 517.68h5.65v5.54h-5.65ZM317.2 528.77h5.65v5.54h-5.65ZM317.2 534.32h5.65v5.54h-5.65ZM334.15 534.32h5.65v5.54h-5.65ZM317.2 539.86h5.65v5.54h-5.65ZM317.2 545.4h5.65v5.54h-5.65ZM317.2 550.95h5.65v5.54h-5.65ZM317.2 556.49h5.65v5.54h-5.65ZM322.85 556.49h5.65v5.54h-5.65ZM334.15 556.49h5.65v5.54h-5.65ZM322.85 573.12h5.65v5.54h-5.65ZM334.15 573.12h5.65v5.54h-5.65ZM317.2 584.21h5.65v5.54h-5.65ZM317.2 595.3h5.65v5.54h-5.65ZM317.2 617.48h5.65v5.54h-5.65ZM317.2 634.11h5.65v5.54h-5.65ZM317.2 639.65h5.65v5.54h-5.65ZM317.2 645.2h5.65v5.54h-5.65ZM317.2 661.83h5.65v5.54h-5.65ZM317.2 667.37h5.65v5.54h-5.65ZM317.2 689.55h5.65v5.54h-5.65ZM317.2 695.09h5.65v5.54h-5.65ZM317.2 722.81h5.65v5.54h-5.65ZM322.85 722.81h5.65v5.54h-5.65ZM334.15 722.81h5.65v5.54h-5.65ZM317.2 756.08h5.65v5.54h-5.65ZM317.2 772.71h5.65v5.54h-5.65ZM317.2 778.25h5.65v5.54h-5.65ZM317.2 794.88h5.65v5.54h-5.65ZM317.2 800.43h5.65v5.54h-5.65ZM317.2 805.97h5.65v5.54h-5.65ZM317.2 817.06h5.65v5.54h-5.65ZM317.2 833.69h5.65v5.54h-5.65ZM317.2 850.32h5.65v5.54h-5.65ZM334.15 850.32h5.65v5.54h-5.65ZM317.2 855.87h5.65v5.54h-5.65ZM317.2 861.41h5.65v5.54h-5.65Z" fill="#454545"/>
<rect x="339.8" y="318.1" width="10" height="5.54" fill="#bc161c"/>
<rect x="349.8" y="318.1" width="10" height="5.54" fill="#f3d4d6"/>
<rect x="339.8" y="323.64" width="10" height="5.54" fill="#bc161c"/>
<rect x="349.8" y="323.64" width="10" height="5.54" fill="#ffffff"/>
<rect x="339.8" y="329.19" width="10" height="5.54" fill="#bf2228"/>
<rect x="349.8" y="329.19" width="10" height="5.54" fill="#ffffff"/>
<rect x="339.8" y="334.73" width="10" height="5.54" fill="#c32e34"/>
<rect x="349.8" y="334.73" width="10" height="5.54" fill="#dedef0"/>
<rect x="339.8" y="340.28" width="10" height="5.54" fill="#c63a40"/>
<rect x="349.8" y="340.28" width="10" height="5.54" fill="#aeaedc"/>
<rect x="339.8" y="345.82" width="10" height="5.54" fill="#ca464c"/>
<rect x="349.8" y="345.82" width="10" height="5.54" fill="#aeaedc"/>
<rect x="339.8" y="351.36" width="10" height="5.54" fill="#cd5258"/>
<rect x="349.8" y="351.36" width="10" height="5.54" fill="#aeaedc"/>
<rect x="339.8" y="356.91" width="10" height="5.54" fill="#d26267"/>
<rect x="349.8" y="356.91" width="10" height="5.54" fill="#4c4ca3"/>
<rect x="339.8" y="362.45" width="10" height="5.54" fill="#d67177"/>
<rect x="349.8" y="362.45" width="10" height="5.54" fill="#aeaedc"/>
<rect x="339.8" y="368" width="10" height="5.54" fill="#db8186"/>
<rect x="349.8" y="368" width="10" height="5.54" fill="#4c4ca3"/>
<rect x="339.8" y="373.54" width="10" height="5.54" fill="#df8f94"/>
<rect x="349.8" y="373.54" width="10" height="5.54" fill="#aeaedc"/>
<rect x="339.8" y="379.08" width="10" height="5.54" fill="#e29ca0"/>
<rect x="349.8" y="379.08" width="10" height="5.54" fill="#26247a"/>
<rect x="339.8" y="384.63" width="10" height="5.54" fill="#e29ca0"/>
<rect x="349.8" y="384.63" width="10" height="5.54" fill="#7a7ac2"/>
<rect x="339.8" y="390.17" width="10" height="5.54" fill="#e29ca0"/>
<rect x="349.8" y="390.17" width="10" height="5.54" fill="#4c4ca3"/>
<rect x="339.8" y="395.72" width="10" height="5.54" fill="#e29ca0"/>
<rect x="349.8" y="395.72" width="10" height="5.54" fill="#7a7ac2"/>
<rect x="339.8" y="401.26" width="10" height="5.54" fill="#e29ca0"/>
<rect x="349.8" y="401.26" width="10" height="5.54" fill="#4c4ca3"/>
<rect x="339.8" y="406.8" width="10" height="5.54" fill="#e29ca0"/>
<rect x="349.8" y="406.8" width="10" height="5.54" fill="#4c4ca3"/>
<rect x="339.8" y="412.35" width="10" height="5.54" fill="#e29ca0"/>
<rect x="349.8" y="412.35" width="10" height="5.54" fill="#7a7ac2"/>
<rect x="339.8" y="417.89" width="10" height="5.54" fill="#e29ca0"/>
<rect x="349.8" y="417.89" width="10" height="5.54" fill="#7a7ac2"/>
<rect x="339.8" y="423.44" width="10" height="5.54" fill="#e29ca0"/>
<rect x="349.8" y="423.44" width="10" height="5.54" fill="#26247a"/>
<rect x="339.8" y="428.98" width="10" height="5.54" fill="#e29ca0"/>
<rect x="349.8" y="428.98" width="10" height="5.54" fill="#7a7ac2"/>
<rect x="339.8" y="434.52" width="10" height="5.54" fill="#e29ca0"/>
<rect x="349.8" y="434.52" width="10" height="5.54" fill="#26247a"/>
<rect x="339.8" y="440.07" width="10" height="5.54" fill="#e4a3a8"/>
<rect x="349.8" y="440.07" width="10" height="5.54" fill="#4c4ca3"/>
<rect x="339.8" y="445.61" width="10" height="5.54" fill="#e6abaf"/>
<rect x="349.8" y="445.61" width="10" height="5.54" fill="#7a7ac2"/>
<rect x="339.8" y="451.16" width="10" height="5.54" fill="#e9b2b6"/>
<rect x="349.8" y="451.16" width="10" height="5.54" fill="#7a7ac2"/>
<rect x="339.8" y="456.7" width="10" height="5.54" fill="#eab8bc"/>
<rect x="349.8" y="456.7" width="10" height="5.54" fill="#26247a"/>
<rect x="339.8" y="462.24" width="10" height="5.54" fill="#ecbec1"/>
<rect x="349.8" y="462.24" width="10" height="5.54" fill="#4c4ca3"/>
<rect x="339.8" y="467.79" width="10" height="5.54" fill="#ecbec1"/>
<rect x="349.8" y="467.79" width="10" height="5.54" fill="#4c4ca3"/>
<rect x="339.8" y="473.33" width="10" height="5.54" fill="#ecbec1"/>
<rect x="349.8" y="473.33" width="10" height="5.54" fill="#4c4ca3"/>
<rect x="339.8" y="478.88" width="10" height="5.54" fill="#ecbec1"/>
<rect x="349.8" y="478.88" width="10" height="5.54" fill="#4c4ca3"/>
<rect x="339.8" y="484.42" width="10" height="5.54" fill="#ecbec1"/>
<rect x="349.8" y="484.42" width="10" height="5.54" fill="#4c4ca3"/>
<rect x="339.8" y="489.96" width="10" height="5.54" fill="#ecbec1"/>
<rect x="349.8" y="489.96" width="10" height="5.54" fill="#4c4ca3"/>
<rect x="339.8" y="495.51" width="10" height="5.54" fill="#ecbec1"/>
<rect x="349.8" y="495.51" width="10" height="5.54" fill="#4c4ca3"/>
<rect x="339.8" y="501.05" width="10" height="5.54" fill="#ecbec1"/>
<rect x="349.8" y="501.05" width="10" height="5.54" fill="#26247a"/>
<rect x="339.8" y="506.6" width="10" height="5.54" fill="#ecbec1"/>
<rect x="349.8" y="506.6" width="10" height="5.54" fill="#4c4ca3"/>
<rect x="339.8" y="512.14" width="10" height="5.54" fill="#eec3c6"/>
<rect x="349.8" y="512.14" width="10" height="5.54" fill="#26247a"/>
<rect x="339.8" y="517.68" width="10" height="5.54" fill="#efc8cb"/>
<rect x="349.8" y="517.68" width="10" height="5.54" fill="#26247a"/>
<rect x="339.8" y="523.23" width="10" height="5.54" fill="#f1ced0"/>
<rect x="349.8" y="523.23" width="10" height="5.54" fill="#26247a"/>
<rect x="339.8" y="528.77" width="10" height="5.54" fill="#f3d3d5"/>
<rect x="349.8" y="528.77" width="10" height="5.54" fill="#26247a"/>
<rect x="339.8" y="534.32" width="10" height="5.54" fill="#f7e2e3"/>
<rect x="349.8" y="534.32" width="10" height="5.54" fill="#26247a"/>
<rect x="339.8" y="539.86" width="10" height="5.54" fill="#f9e9ea"/>
<rect x="349.8" y="539.86" width="10" height="5.54" fill="#26247a"/>
<rect x="339.8" y="545.4" width="10" height="5.54" fill="#fbf0f1"/>
<rect x="349.8" y="545.4" width="10" height="5.54" fill="#26247a"/>
<rect x="339.8" y="550.95" width="10" height="5.54" fill="#fdf8f8"/>
<rect x="349.8" y="550.95" width="10" height="5.54" fill="#26247a"/>
<rect x="339.8" y="556.49" width="10" height="5.54" fill="#ffffff"/>
<rect x="349.8" y="556.49" width="10" height="5.54" fill="#26247a"/>
<rect x="339.8" y="562.04" width="10" height="5.54" fill="#ffffff"/>
<rect x="349.8" y="562.04" width="10" height="5.54" fill="#26247a"/>
<rect x="339.8" y="567.58" width="10" height="5.54" fill="#ffffff"/>
<rect x="349.8" y="567.58" width="10" height="5.54" fill="#26247a"/>
<rect x="339.8" y="573.12" width="10" height="5.54" fill="#ffffff"/>
<rect x="349.8" y="573.12" width="10" height="5.54" fill="#26247a"/>
<rect x="339.8" y="578.67" width="10" height="5.54" fill="#dedef0"/>
<rect x="349.8" y="578.67" width="10" height="5.54" fill="#26247a"/>
<rect x="339.8" y="584.21" width="10" height="5.54" fill="#c6c6e6"/>
<rect x="349.8" y="584.21" width="10" height="5.54" fill="#26247a"/>
<rect x="339.8" y="589.76" width="10" height="5.54" fill="#b8b8e0"/>
<rect x="349.8" y="589.76" width="10" height="5.54" fill="#26247a"/>
<rect x="339.8" y="595.3" width="10" height="5.54" fill="#a4a4d7"/>
<rect x="349.8" y="595.3" width="10" height="5.54" fill="#e9b4b8"/>
<rect x="339.8" y="600.84" width="10" height="5.54" fill="#8f8fcc"/>
<rect x="349.8" y="600.84" width="10" height="5.54" fill="#e9b4b8"/>
<rect x="339.8" y="606.39" width="10" height="5.54" fill="#7a7ac2"/>
<rect x="349.8" y="606.39" width="10" height="5.54" fill="#e9b4b8"/>
<rect x="339.8" y="611.93" width="10" height="5.54" fill="#7a7ac2"/>
<rect x="349.8" y="611.93" width="10" height="5.54" fill="#e9b4b8"/>
<rect x="339.8" y="617.48" width="10" height="5.54" fill="#7171bc"/>
<rect x="349.8" y="617.48" width="10" height="5.54" fill="#e9b4b8"/>
<rect x="339.8" y="623.02" width="10" height="5.54" fill="#6868b6"/>
<rect x="349.8" y="623.02" width="10" height="5.54" fill="#e9b4b8"/>
<rect x="339.8" y="628.56" width="10" height="5.54" fill="#5e5eaf"/>
<rect x="349.8" y="628.56" width="10" height="5.54" fill="#e9b4b8"/>
<rect x="339.8" y="634.11" width="10" height="5.54" fill="#5555a9"/>
<rect x="349.8" y="634.11" width="10" height="5.54" fill="#e9b4b8"/>
<rect x="339.8" y="639.65" width="10" height="5.54" fill="#44449b"/>
<rect x="349.8" y="639.65" width="10" height="5.54" fill="#e9b4b8"/>
<rect x="339.8" y="645.2" width="10" height="5.54" fill="#3d3c93"/>
<rect x="349.8" y="645.2" width="10" height="5.54" fill="#e9b4b8"/>
<rect x="339.8" y="650.74" width="10" height="5.54" fill="#35348a"/>
<rect x="349.8" y="650.74" width="10" height="5.54" fill="#f3d4d6"/>
<rect x="339.8" y="656.28" width="10" height="5.54" fill="#2e2c82"/>
<rect x="349.8" y="656.28" width="10" height="5.54" fill="#f3d4d6"/>
<rect x="339.8" y="661.83" width="10" height="5.54" fill="#26247a"/>
<rect x="349.8" y="661.83" width="10" height="5.54" fill="#f3d4d6"/>
<rect x="339.8" y="667.37" width="10" height="5.54" fill="#26247a"/>
<rect x="349.8" y="667.37" width="10" height="5.54" fill="#f3d4d6"/>
<rect x="339.8" y="672.92" width="10" height="5.54" fill="#26247a"/>
<rect x="349.8" y="672.92" width="10" height="5.54" fill="#ffffff"/>
<rect x="339.8" y="678.46" width="10" height="5.54" fill="#26247a"/>
<rect x="349.8" y="678.46" width="10" height="5.54" fill="#ffffff"/>
<rect x="339.8" y="684" width="10" height="5.54" fill="#26247a"/>
<rect x="349.8" y="684" width="10" height="5.54" fill="#f3d4d6"/>
<rect x="339.8" y="689.55" width="10" height="5.54" fill="#26247a"/>
<rect x="349.8" y="689.55" width="10" height="5.54" fill="#e9b4b8"/>
<rect x="339.8" y="695.09" width="10" height="5.54" fill="#26247a"/>
<rect x="349.8" y="695.09" width="10" height="5.54" fill="#ffffff"/>
<rect x="339.8" y="700.64" width="10" height="5.54" fill="#26247a"/>
<rect x="349.8" y="700.64" width="10" height="5.54" fill="#ffffff"/>
<rect x="339.8" y="706.18" width="10" height="5.54" fill="#26247a"/>
<rect x="349.8" y="706.18" width="10" height="5.54" fill="#ffffff"/>
<rect x="339.8" y="711.72" width="10" height="5.54" fill="#26247a"/>
<rect x="349.8" y="711.72" width="10" height="5.54" fill="#ffffff"/>
<rect x="339.8" y="717.27" width="10" height="5.54" fill="#26247a"/>
<rect x="349.8" y="717.27" width="10" height="5.54" fill="#ffffff"/>
<rect x="339.8" y="722.81" width="10" height="5.54" fill="#26247a"/>
<rect x="349.8" y="722.81" width="10" height="5.54" fill="#f9eaea"/>
<rect x="339.8" y="728.36" width="10" height="5.54" fill="#26247a"/>
<rect x="349.8" y="728.36" width="10" height="5.54" fill="#f3d4d6"/>
<rect x="339.8" y="733.9" width="10" height="5.54" fill="#26247a"/>
<rect x="349.8" y="733.9" width="10" height="5.54" fill="#ebebf6"/>
<rect x="339.8" y="739.44" width="10" height="5.54" fill="#26247a"/>
<rect x="349.8" y="739.44" width="10" height="5.54" fill="#ebebf6"/>
<rect x="339.8" y="744.99" width="10" height="5.54" fill="#26247a"/>
<rect x="349.8" y="744.99" width="10" height="5.54" fill="#ebebf6"/>
<rect x="339.8" y="750.53" width="10" height="5.54" fill="#26247a"/>
<rect x="349.8" y="750.53" width="10" height="5.54" fill="#ebebf6"/>
<rect x="339.8" y="756.08" width="10" height="5.54" fill="#26247a"/>
<rect x="349.8" y="756.08" width="10" height="5.54" fill="#ebebf6"/>
<rect x="339.8" y="761.62" width="10" height="5.54" fill="#26247a"/>
<rect x="349.8" y="761.62" width="10" height="5.54" fill="#ebebf6"/>
<rect x="339.8" y="767.16" width="10" height="5.54" fill="#26247a"/>
<rect x="349.8" y="767.16" width="10" height="5.54" fill="#ebebf6"/>
<rect x="339.8" y="772.71" width="10" height="5.54" fill="#26247a"/>
<rect x="349.8" y="772.71" width="10" height="5.54" fill="#ebebf6"/>
<rect x="339.8" y="778.25" width="10" height="5.54" fill="#26247a"/>
<rect x="349.8" y="778.25" width="10" height="5.54" fill="#ebebf6"/>
<rect x="339.8" y="783.8" width="10" height="5.54" fill="#26247a"/>
<rect x="349.8" y="783.8" width="10" height="5.54" fill="#f5f5fa"/>
<rect x="339.8" y="789.34" width="10" height="5.54" fill="#26247a"/>
<rect x="349.8" y="789.34" width="10" height="5.54" fill="#f5f5fa"/>
<rect x="339.8" y="794.88" width="10" height="5.54" fill="#26247a"/>
<rect x="349.8" y="794.88" width="10" height="5.54" fill="#f5f5fa"/>
<rect x="339.8" y="800.43" width="10" height="5.54" fill="#26247a"/>
<rect x="349.8" y="800.43" width="10" height="5.54" fill="#f5f5fa"/>
<rect x="339.8" y="805.97" width="10" height="5.54" fill="#26247a"/>
<rect x="349.8" y="805.97" width="10" height="5.54" fill="#f5f5fa"/>
<rect x="339.8" y="811.52" width="10" height="5.54" fill="#26247a"/>
<rect x="349.8" y="811.52" width="10" height="5.54" fill="#ffffff"/>
<rect x="339.8" y="817.06" width="10" height="5.54" fill="#26247a"/>
<rect x="349.8" y="817.06" width="10" height="5.54" fill="#ffffff"/>
<rect x="339.8" y="822.6" width="10" height="5.54" fill="#26247a"/>
<rect x="349.8" y="822.6" width="10" height="5.54" fill="#ffffff"/>
<rect x="339.8" y="828.15" width="10" height="5.54" fill="#26247a"/>
<rect x="349.8" y="828.15" width="10" height="5.54" fill="#ffffff"/>
<rect x="339.8" y="833.69" width="10" height="5.54" fill="#26247a"/>
<rect x="349.8" y="833.69" width="10" height="5.54" fill="#ffffff"/>
<rect x="339.8" y="839.24" width="10" height="5.54" fill="#26247a"/>
<rect x="349.8" y="839.24" width="10" height="5.54" fill="#ffffff"/>
<rect x="339.8" y="844.78" width="10" height="5.54" fill="#26247a"/>
<rect x="349.8" y="844.78" width="10" height="5.54" fill="#ffffff"/>
<rect x="339.8" y="850.32" width="10" height="5.54" fill="#26247a"/>
<rect x="349.8" y="850.32" width="10" height="5.54" fill="#fbf2f3"/>
<rect x="339.8" y="855.87" width="10" height="5.54" fill="#26247a"/>
<rect x="349.8" y="855.87" width="10" height="5.54" fill="#f8e5e6"/>
<rect x="339.8" y="861.41" width="10" height="5.54" fill="#26247a"/>
<rect x="349.8" y="861.41" width="10" height="5.54" fill="#f8e5e6"/>
<rect x="339.8" y="866.96" width="10" height="5.54" fill="#26247a"/>
<rect x="349.8" y="866.96" width="10" height="5.54" fill="#f8e5e6"/>
<path d="M317.2 318.1h42.6M317.2 323.64h42.6M317.2 329.19h42.6M317.2 334.73h42.6M317.2 340.28h42.6M317.2 345.82h42.6M317.2 351.36h42.6M317.2 356.91h42.6M317.2 362.45h42.6M317.2 368h42.6M317.2 373.54h42.6M317.2 379.08h42.6M317.2 384.63h42.6M317.2 390.17h42.6M317.2 395.72h42.6M317.2 401.26h42.6M317.2 406.8h42.6M317.2 412.35h42.6M317.2 417.89h42.6M317.2 423.44h42.6M317.2 428.98h42.6M317.2 434.52h42.6M317.2 440.07h42.6M317.2 445.61h42.6M317.2 451.16h42.6M317.2 456.7h42.6M317.2 462.24h42.6M317.2 467.79h42.6M317.2 473.33h42.6M317.2 478.88h42.6M317.2 484.42h42.6M317.2 489.96h42.6M317.2 495.51h42.6M317.2 501.05h42.6M317.2 506.6h42.6M317.2 512.14h42.6M317.2 517.68h42.6M317.2 523.23h42.6M317.2 528.77h42.6M317.2 534.32h42.6M317.2 539.86h42.6M317.2 545.4h42.6M317.2 550.95h42.6M317.2 556.49h42.6M317.2 562.04h42.6M317.2 567.58h42.6M317.2 573.12h42.6M317.2 578.67h42.6M317.2 584.21h42.6M317.2 589.76h42.6M317.2 595.3h42.6M317.2 600.84h42.6M317.2 606.39h42.6M317.2 611.93h42.6M317.2 617.48h42.6M317.2 623.02h42.6M317.2 628.56h42.6M317.2 634.11h42.6M317.2 639.65h42.6M317.2 645.2h42.6M317.2 650.74h42.6M317.2 656.28h42.6M317.2 661.83h42.6M317.2 667.37h42.6M317.2 672.92h42.6M317.2 678.46h42.6M317.2 684h42.6M317.2 689.55h42.6M317.2 695.09h42.6M317.2 700.64h42.6M317.2 706.18h42.6M317.2 711.72h42.6M317.2 717.27h42.6M317.2 722.81h42.6M317.2 728.36h42.6M317.2 733.9h42.6M317.2 739.44h42.6M317.2 744.99h42.6M317.2 750.53h42.6M317.2 756.08h42.6M317.2 761.62h42.6M317.2 767.16h42.6M317.2 772.71h42.6M317.2 778.25h42.6M317.2 783.8h42.6M317.2 789.34h42.6M317.2 794.88h42.6M317.2 800.43h42.6M317.2 805.97h42.6M317.2 811.52h42.6M317.2 817.06h42.6M317.2 822.6h42.6M317.2 828.15h42.6M317.2 833.69h42.6M317.2 839.24h42.6M317.2 844.78h42.6M317.2 850.32h42.6M317.2 855.87h42.6M317.2 861.41h42.6M317.2 866.96h42.6M317.2 872.5h42.6M317.2 318.1v554.4M322.85 318.1v554.4M328.5 318.1v554.4M334.15 318.1v554.4M339.8 318.1v554.4M349.8 318.1v554.4M359.8 318.1v554.4" stroke="#a0a0a0" stroke-width="0.7" fill="none"/>
<g font-size="5.6" stroke="#222" stroke-width="0.12"><text transform="translate(363.9 322.82) rotate(0.05)">HBB</text><text transform="translate(363.9 328.36) rotate(0.05)">S100A9</text><text transform="translate(363.9 333.89) rotate(0.05)">S100A8</text><text transform="translate(363.9 339.43) rotate(0.05)">CD6</text><text transform="translate(363.9 344.96) rotate(0.05)">HBA2</text><text transform="translate(363.9 350.5) rotate(0.05)">IGHM</text><text transform="translate(363.9 356.03) rotate(0.05)">CD8B</text><text transform="translate(363.9 361.57) rotate(0.05)">CD28</text><text transform="translate(363.9 367.1) rotate(0.05)">PPBP</text><text transform="translate(363.9 372.64) rotate(0.05)">TRBV4−2</text><text transform="translate(363.9 378.17) rotate(0.05)">LAG3</text><text transform="translate(363.9 383.71) rotate(0.05)">S100A12</text><text transform="translate(363.9 389.24) rotate(0.05)">PF4</text><text transform="translate(363.9 394.78) rotate(0.05)">VCAN</text><text transform="translate(363.9 400.31) rotate(0.05)">TUBB1</text><text transform="translate(363.9 405.85) rotate(0.05)">SIT1</text><text transform="translate(363.9 411.38) rotate(0.05)">MNDA</text><text transform="translate(363.9 416.92) rotate(0.05)">MYLK4</text><text transform="translate(363.9 422.45) rotate(0.05)">IL1RL1</text><text transform="translate(363.9 427.99) rotate(0.05)">CLEC7A</text><text transform="translate(363.9 433.52) rotate(0.05)">RGS18</text><text transform="translate(363.9 439.06) rotate(0.05)">SLAMF1</text><text transform="translate(363.9 444.59) rotate(0.05)">GNG11</text><text transform="translate(363.9 450.13) rotate(0.05)">HBA1</text><text transform="translate(363.9 455.66) rotate(0.05)">THEMIS</text><text transform="translate(363.9 461.2) rotate(0.05)">FCER1A</text><text transform="translate(363.9 466.73) rotate(0.05)">APOBEC3A</text><text transform="translate(363.9 472.27) rotate(0.05)">QPCT</text><text transform="translate(363.9 477.8) rotate(0.05)">CR1</text><text transform="translate(363.9 483.34) rotate(0.05)">GSTM3</text><text transform="translate(363.9 488.87) rotate(0.05)">WNT7A</text><text transform="translate(363.9 494.41) rotate(0.05)">CSTA</text><text transform="translate(363.9 499.94) rotate(0.05)">PROK2</text><text transform="translate(363.9 505.48) rotate(0.05)">IGLC2</text><text transform="translate(363.9 511.01) rotate(0.05)">MARCH1</text><text transform="translate(363.9 516.55) rotate(0.05)">AQP9</text><text transform="translate(363.9 522.08) rotate(0.05)">PTX3</text><text transform="translate(363.9 527.62) rotate(0.05)">FCRL2</text><text transform="translate(363.9 533.15) rotate(0.05)">ZNF80</text><text transform="translate(363.9 538.69) rotate(0.05)">HK3</text><text transform="translate(363.9 544.22) rotate(0.05)">GP9</text><text transform="translate(363.9 549.76) rotate(0.05)">MMACHC</text><text transform="translate(363.9 555.29) rotate(0.05)">ELOVL4</text><text transform="translate(363.9 560.83) rotate(0.05)">CLC</text><text transform="translate(363.9 566.36) rotate(0.05)">NTN4</text><text transform="translate(363.9 571.9) rotate(0.05)">SEPT5</text><text transform="translate(363.9 577.43) rotate(0.05)">CD1C</text><text transform="translate(363.9 582.97) rotate(0.05)">RP11−379K17.4</text><text transform="translate(363.9 588.5) rotate(0.05)">SOAT2</text><text transform="translate(363.9 594.04) rotate(0.05)">RP11−52J3.2</text><text transform="translate(363.9 599.57) rotate(0.05)">SDR42E1</text><text transform="translate(363.9 605.11) rotate(0.05)">FSD1L</text><text transform="translate(363.9 610.64) rotate(0.05)">MKI67</text><text transform="translate(363.9 616.18) rotate(0.05)">DENND5B</text><text transform="translate(363.9 621.71) rotate(0.05)">THAP9</text><text transform="translate(363.9 627.25) rotate(0.05)">BTBD6P1</text><text transform="translate(363.9 632.78) rotate(0.05)">SNX7</text><text transform="translate(363.9 638.32) rotate(0.05)">ZNF334</text><text transform="translate(363.9 643.85) rotate(0.05)">MOCS1</text><text transform="translate(363.9 649.39) rotate(0.05)">PIGZ</text><text transform="translate(363.9 654.92) rotate(0.05)">CTD−2260A17.1</text><text transform="translate(363.9 660.46) rotate(0.05)">RP1−45N11.1</text><text transform="translate(363.9 665.99) rotate(0.05)">USP6</text><text transform="translate(363.9 671.53) rotate(0.05)">STOX1</text><text transform="translate(363.9 677.06) rotate(0.05)">LILRP2</text><text transform="translate(363.9 682.6) rotate(0.05)">SPAG6</text><text transform="translate(363.9 688.13) rotate(0.05)">LRRC20</text><text transform="translate(363.9 693.67) rotate(0.05)">PRDM16</text><text transform="translate(363.9 699.2) rotate(0.05)">PARD3</text><text transform="translate(363.9 704.74) rotate(0.05)">RGS6</text><text transform="translate(363.9 710.27) rotate(0.05)">ZG16B</text><text transform="translate(363.9 715.81) rotate(0.05)">MARK2P8</text><text transform="translate(363.9 721.34) rotate(0.05)">CARD6</text><text transform="translate(363.9 726.88) rotate(0.05)">MYB</text><text transform="translate(363.9 732.41) rotate(0.05)">PLSCR4</text><text transform="translate(363.9 737.95) rotate(0.05)">RP5−1126H10.2</text><text transform="translate(363.9 743.48) rotate(0.05)">FAM182B</text><text transform="translate(363.9 749.02) rotate(0.05)">FAM187B2P</text><text transform="translate(363.9 754.55) rotate(0.05)">MNS1</text><text transform="translate(363.9 760.09) rotate(0.05)">GLIS3</text><text transform="translate(363.9 765.62) rotate(0.05)">RP11−573D15.8</text><text transform="translate(363.9 771.16) rotate(0.05)">AC100830.3</text><text transform="translate(363.9 776.69) rotate(0.05)">ZFP2</text><text transform="translate(363.9 782.23) rotate(0.05)">GHSR</text><text transform="translate(363.9 787.76) rotate(0.05)">GTSE1</text><text transform="translate(363.9 793.3) rotate(0.05)">PHLDA3</text><text transform="translate(363.9 798.83) rotate(0.05)">LDHD</text><text transform="translate(363.9 804.37) rotate(0.05)">DIRAS3</text><text transform="translate(363.9 809.9) rotate(0.05)">APOL4</text><text transform="translate(363.9 815.44) rotate(0.05)">RP11−34E5.4</text><text transform="translate(363.9 820.97) rotate(0.05)">PFKFB1</text><text transform="translate(363.9 826.51) rotate(0.05)">PLPP7</text><text transform="translate(363.9 832.04) rotate(0.05)">TMPPE</text><text transform="translate(363.9 837.58) rotate(0.05)">JADE3</text><text transform="translate(363.9 843.11) rotate(0.05)">RP5−1148A21.3</text><text transform="translate(363.9 848.65) rotate(0.05)">PDE1C</text><text transform="translate(363.9 854.18) rotate(0.05)">MGAM</text><text transform="translate(363.9 859.72) rotate(0.05)">ZNF404</text><text transform="translate(363.9 865.25) rotate(0.05)">TRIP13</text><text transform="translate(363.9 870.79) rotate(0.05)">TSPAN13</text></g>
<g font-size="5.75"><text transform="translate(322.02 312.6) rotate(-89.95)">Metabolism</text><text transform="translate(327.68 312.6) rotate(-89.95)">Activation</text><text transform="translate(333.32 312.6) rotate(-89.95)">Migration</text><text transform="translate(338.97 312.6) rotate(-89.95)">Effector</text><text transform="translate(346.8 312.6) rotate(-89.95)">CD56+ ILC1-like</text><text transform="translate(356.8 312.6) rotate(-89.95)">CD56bright NK</text></g>
<rect x="418.2" y="318.1" width="22.6" height="554.4" fill="#fff"/>
<path d="M418.2 318.1h5.65v5.54h-5.65ZM423.85 318.1h5.65v5.54h-5.65ZM435.15 318.1h5.65v5.54h-5.65ZM418.2 323.64h5.65v5.54h-5.65ZM418.2 329.19h5.65v5.54h-5.65ZM423.85 329.19h5.65v5.54h-5.65ZM429.5 329.19h5.65v5.54h-5.65ZM418.2 334.73h5.65v5.54h-5.65ZM435.15 334.73h5.65v5.54h-5.65ZM418.2 340.28h5.65v5.54h-5.65ZM418.2 351.36h5.65v5.54h-5.65ZM418.2 356.91h5.65v5.54h-5.65ZM423.85 362.45h5.65v5.54h-5.65ZM429.5 362.45h5.65v5.54h-5.65ZM418.2 368h5.65v5.54h-5.65ZM423.85 368h5.65v5.54h-5.65ZM418.2 379.08h5.65v5.54h-5.65ZM418.2 384.63h5.65v5.54h-5.65ZM418.2 401.26h5.65v5.54h-5.65ZM418.2 428.98h5.65v5.54h-5.65ZM423.85 434.52h5.65v5.54h-5.65ZM418.2 440.07h5.65v5.54h-5.65ZM423.85 440.07h5.65v5.54h-5.65ZM418.2 445.61h5.65v5.54h-5.65ZM418.2 451.16h5.65v5.54h-5.65ZM423.85 451.16h5.65v5.54h-5.65ZM429.5 451.16h5.65v5.54h-5.65ZM435.15 451.16h5.65v5.54h-5.65ZM418.2 456.7h5.65v5.54h-5.65ZM418.2 467.79h5.65v5.54h-5.65ZM429.5 478.88h5.65v5.54h-5.65ZM435.15 478.88h5.65v5.54h-5.65ZM418.2 484.42h5.65v5.54h-5.65ZM418.2 501.05h5.65v5.54h-5.65ZM423.85 501.05h5.65v5.54h-5.65ZM429.5 501.05h5.65v5.54h-5.65ZM435.15 501.05h5.65v5.54h-5.65ZM418.2 506.6h5.65v5.54h-5.65ZM423.85 506.6h5.65v5.54h-5.65ZM435.15 506.6h5.65v5.54h-5.65ZM418.2 523.23h5.65v5.54h-5.65ZM418.2 534.32h5.65v5.54h-5.65ZM418.2 550.95h5.65v5.54h-5.65ZM423.85 550.95h5.65v5.54h-5.65ZM435.15 550.95h5.65v5.54h-5.65ZM418.2 556.49h5.65v5.54h-5.65ZM418.2 567.58h5.65v5.54h-5.65ZM423.85 578.67h5.65v5.54h-5.65ZM418.2 589.76h5.65v5.54h-5.65ZM423.85 589.76h5.65v5.54h-5.65ZM435.15 589.76h5.65v5.54h-5.65ZM418.2 595.3h5.65v5.54h-5.65ZM418.2 600.84h5.65v5.54h-5.65ZM429.5 600.84h5.65v5.54h-5.65ZM418.2 611.93h5.65v5.54h-5.65ZM418.2 639.65h5.65v5.54h-5.65ZM418.2 645.2h5.65v5.54h-5.65ZM429.5 645.2h5.65v5.54h-5.65ZM418.2 667.37h5.65v5.54h-5.65ZM418.2 678.46h5.65v5.54h-5.65ZM418.2 684h5.65v5.54h-5.65ZM418.2 695.09h5.65v5.54h-5.65ZM418.2 700.64h5.65v5.54h-5.65ZM418.2 728.36h5.65v5.54h-5.65ZM429.5 728.36h5.65v5.54h-5.65ZM435.15 728.36h5.65v5.54h-5.65ZM418.2 739.44h5.65v5.54h-5.65ZM418.2 744.99h5.65v5.54h-5.65ZM418.2 767.16h5.65v5.54h-5.65ZM418.2 772.71h5.65v5.54h-5.65ZM423.85 772.71h5.65v5.54h-5.65ZM418.2 805.97h5.65v5.54h-5.65ZM418.2 811.52h5.65v5.54h-5.65ZM418.2 817.06h5.65v5.54h-5.65ZM418.2 828.15h5.65v5.54h-5.65ZM418.2 833.69h5.65v5.54h-5.65ZM418.2 844.78h5.65v5.54h-5.65ZM418.2 861.41h5.65v5.54h-5.65ZM435.15 861.41h5.65v5.54h-5.65ZM418.2 866.96h5.65v5.54h-5.65ZM429.5 866.96h5.65v5.54h-5.65ZM435.15 866.96h5.65v5.54h-5.65Z" fill="#454545"/>
<rect x="440.8" y="318.1" width="10" height="5.54" fill="#c22a30"/>
<rect x="450.8" y="318.1" width="10" height="5.54" fill="#faeeef"/>
<rect x="440.8" y="323.64" width="10" height="5.54" fill="#c4343a"/>
<rect x="450.8" y="323.64" width="10" height="5.54" fill="#ffffff"/>
<rect x="440.8" y="329.19" width="10" height="5.54" fill="#c63a40"/>
<rect x="450.8" y="329.19" width="10" height="5.54" fill="#7a7ac2"/>
<rect x="440.8" y="334.73" width="10" height="5.54" fill="#ca464c"/>
<rect x="450.8" y="334.73" width="10" height="5.54" fill="#aeaedc"/>
<rect x="440.8" y="340.28" width="10" height="5.54" fill="#cd5258"/>
<rect x="450.8" y="340.28" width="10" height="5.54" fill="#26247a"/>
<rect x="440.8" y="345.82" width="10" height="5.54" fill="#cd5258"/>
<rect x="450.8" y="345.82" width="10" height="5.54" fill="#aeaedc"/>
<rect x="440.8" y="351.36" width="10" height="5.54" fill="#cd5258"/>
<rect x="450.8" y="351.36" width="10" height="5.54" fill="#26247a"/>
<rect x="440.8" y="356.91" width="10" height="5.54" fill="#cd5258"/>
<rect x="450.8" y="356.91" width="10" height="5.54" fill="#aeaedc"/>
<rect x="440.8" y="362.45" width="10" height="5.54" fill="#cd5258"/>
<rect x="450.8" y="362.45" width="10" height="5.54" fill="#aeaedc"/>
<rect x="440.8" y="368" width="10" height="5.54" fill="#d05d63"/>
<rect x="450.8" y="368" width="10" height="5.54" fill="#7a7ac2"/>
<rect x="440.8" y="373.54" width="10" height="5.54" fill="#d3686d"/>
<rect x="450.8" y="373.54" width="10" height="5.54" fill="#4c4ca3"/>
<rect x="440.8" y="379.08" width="10" height="5.54" fill="#d77278"/>
<rect x="450.8" y="379.08" width="10" height="5.54" fill="#aeaedc"/>
<rect x="440.8" y="384.63" width="10" height="5.54" fill="#da7d82"/>
<rect x="450.8" y="384.63" width="10" height="5.54" fill="#26247a"/>
<rect x="440.8" y="390.17" width="10" height="5.54" fill="#dd888d"/>
<rect x="450.8" y="390.17" width="10" height="5.54" fill="#4c4ca3"/>
<rect x="440.8" y="395.72" width="10" height="5.54" fill="#dd888d"/>
<rect x="450.8" y="395.72" width="10" height="5.54" fill="#26247a"/>
<rect x="440.8" y="401.26" width="10" height="5.54" fill="#dd888d"/>
<rect x="450.8" y="401.26" width="10" height="5.54" fill="#4c4ca3"/>
<rect x="440.8" y="406.8" width="10" height="5.54" fill="#dd888d"/>
<rect x="450.8" y="406.8" width="10" height="5.54" fill="#7a7ac2"/>
<rect x="440.8" y="412.35" width="10" height="5.54" fill="#dd888d"/>
<rect x="450.8" y="412.35" width="10" height="5.54" fill="#26247a"/>
<rect x="440.8" y="417.89" width="10" height="5.54" fill="#dd888d"/>
<rect x="450.8" y="417.89" width="10" height="5.54" fill="#26247a"/>
<rect x="440.8" y="423.44" width="10" height="5.54" fill="#dd888d"/>
<rect x="450.8" y="423.44" width="10" height="5.54" fill="#4c4ca3"/>
<rect x="440.8" y="428.98" width="10" height="5.54" fill="#dd888d"/>
<rect x="450.8" y="428.98" width="10" height="5.54" fill="#26247a"/>
<rect x="440.8" y="434.52" width="10" height="5.54" fill="#dd888d"/>
<rect x="450.8" y="434.52" width="10" height="5.54" fill="#7a7ac2"/>
<rect x="440.8" y="440.07" width="10" height="5.54" fill="#dd888d"/>
<rect x="450.8" y="440.07" width="10" height="5.54" fill="#4c4ca3"/>
<rect x="440.8" y="445.61" width="10" height="5.54" fill="#dd888d"/>
<rect x="450.8" y="445.61" width="10" height="5.54" fill="#26247a"/>
<rect x="440.8" y="451.16" width="10" height="5.54" fill="#dd888d"/>
<rect x="450.8" y="451.16" width="10" height="5.54" fill="#26247a"/>
<rect x="440.8" y="456.7" width="10" height="5.54" fill="#dd888d"/>
<rect x="450.8" y="456.7" width="10" height="5.54" fill="#4c4ca3"/>
<rect x="440.8" y="462.24" width="10" height="5.54" fill="#dd888d"/>
<rect x="450.8" y="462.24" width="10" height="5.54" fill="#26247a"/>
<rect x="440.8" y="467.79" width="10" height="5.54" fill="#dd888d"/>
<rect x="450.8" y="467.79" width="10" height="5.54" fill="#26247a"/>
<rect x="440.8" y="473.33" width="10" height="5.54" fill="#dd888d"/>
<rect x="450.8" y="473.33" width="10" height="5.54" fill="#4c4ca3"/>
<rect x="440.8" y="478.88" width="10" height="5.54" fill="#dd888d"/>
<rect x="450.8" y="478.88" width="10" height="5.54" fill="#26247a"/>
<rect x="440.8" y="484.42" width="10" height="5.54" fill="#dd888d"/>
<rect x="450.8" y="484.42" width="10" height="5.54" fill="#26247a"/>
<rect x="440.8" y="489.96" width="10" height="5.54" fill="#df9196"/>
<rect x="450.8" y="489.96" width="10" height="5.54" fill="#4c4ca3"/>
<rect x="440.8" y="495.51" width="10" height="5.54" fill="#e29a9e"/>
<rect x="450.8" y="495.51" width="10" height="5.54" fill="#26247a"/>
<rect x="440.8" y="501.05" width="10" height="5.54" fill="#e4a2a7"/>
<rect x="450.8" y="501.05" width="10" height="5.54" fill="#26247a"/>
<rect x="440.8" y="506.6" width="10" height="5.54" fill="#e7abaf"/>
<rect x="450.8" y="506.6" width="10" height="5.54" fill="#26247a"/>
<rect x="440.8" y="512.14" width="10" height="5.54" fill="#e9b4b8"/>
<rect x="450.8" y="512.14" width="10" height="5.54" fill="#26247a"/>
<rect x="440.8" y="517.68" width="10" height="5.54" fill="#e9b4b8"/>
<rect x="450.8" y="517.68" width="10" height="5.54" fill="#26247a"/>
<rect x="440.8" y="523.23" width="10" height="5.54" fill="#e9b4b8"/>
<rect x="450.8" y="523.23" width="10" height="5.54" fill="#26247a"/>
<rect x="440.8" y="528.77" width="10" height="5.54" fill="#e9b4b8"/>
<rect x="450.8" y="528.77" width="10" height="5.54" fill="#26247a"/>
<rect x="440.8" y="534.32" width="10" height="5.54" fill="#e9b4b8"/>
<rect x="450.8" y="534.32" width="10" height="5.54" fill="#26247a"/>
<rect x="440.8" y="539.86" width="10" height="5.54" fill="#e9b4b8"/>
<rect x="450.8" y="539.86" width="10" height="5.54" fill="#26247a"/>
<rect x="440.8" y="545.4" width="10" height="5.54" fill="#e9b4b8"/>
<rect x="450.8" y="545.4" width="10" height="5.54" fill="#26247a"/>
<rect x="440.8" y="550.95" width="10" height="5.54" fill="#e9b4b8"/>
<rect x="450.8" y="550.95" width="10" height="5.54" fill="#26247a"/>
<rect x="440.8" y="556.49" width="10" height="5.54" fill="#e9b4b8"/>
<rect x="450.8" y="556.49" width="10" height="5.54" fill="#26247a"/>
<rect x="440.8" y="562.04" width="10" height="5.54" fill="#e9b4b8"/>
<rect x="450.8" y="562.04" width="10" height="5.54" fill="#26247a"/>
<rect x="440.8" y="567.58" width="10" height="5.54" fill="#e9b4b8"/>
<rect x="450.8" y="567.58" width="10" height="5.54" fill="#26247a"/>
<rect x="440.8" y="573.12" width="10" height="5.54" fill="#ebbabe"/>
<rect x="450.8" y="573.12" width="10" height="5.54" fill="#26247a"/>
<rect x="440.8" y="578.67" width="10" height="5.54" fill="#edc1c4"/>
<rect x="450.8" y="578.67" width="10" height="5.54" fill="#26247a"/>
<rect x="440.8" y="584.21" width="10" height="5.54" fill="#eec4c7"/>
<rect x="450.8" y="584.21" width="10" height="5.54" fill="#26247a"/>
<rect x="440.8" y="589.76" width="10" height="5.54" fill="#f0c9cc"/>
<rect x="450.8" y="589.76" width="10" height="5.54" fill="#26247a"/>
<rect x="440.8" y="595.3" width="10" height="5.54" fill="#cecee9"/>
<rect x="450.8" y="595.3" width="10" height="5.54" fill="#bc161c"/>
<rect x="440.8" y="600.84" width="10" height="5.54" fill="#c6c6e6"/>
<rect x="450.8" y="600.84" width="10" height="5.54" fill="#bc161c"/>
<rect x="440.8" y="606.39" width="10" height="5.54" fill="#c1c1e4"/>
<rect x="450.8" y="606.39" width="10" height="5.54" fill="#dd888d"/>
<rect x="440.8" y="611.93" width="10" height="5.54" fill="#b8b8e0"/>
<rect x="450.8" y="611.93" width="10" height="5.54" fill="#dd888d"/>
<rect x="440.8" y="617.48" width="10" height="5.54" fill="#a4a4d7"/>
<rect x="450.8" y="617.48" width="10" height="5.54" fill="#dd888d"/>
<rect x="440.8" y="623.02" width="10" height="5.54" fill="#9999d2"/>
<rect x="450.8" y="623.02" width="10" height="5.54" fill="#cd5258"/>
<rect x="440.8" y="628.56" width="10" height="5.54" fill="#8f8fcc"/>
<rect x="450.8" y="628.56" width="10" height="5.54" fill="#bc161c"/>
<rect x="440.8" y="634.11" width="10" height="5.54" fill="#8484c7"/>
<rect x="450.8" y="634.11" width="10" height="5.54" fill="#cd5258"/>
<rect x="440.8" y="639.65" width="10" height="5.54" fill="#7a7ac2"/>
<rect x="450.8" y="639.65" width="10" height="5.54" fill="#dd888d"/>
<rect x="440.8" y="645.2" width="10" height="5.54" fill="#7a7ac2"/>
<rect x="450.8" y="645.2" width="10" height="5.54" fill="#cd5258"/>
<rect x="440.8" y="650.74" width="10" height="5.54" fill="#7a7ac2"/>
<rect x="450.8" y="650.74" width="10" height="5.54" fill="#cd5258"/>
<rect x="440.8" y="656.28" width="10" height="5.54" fill="#7a7ac2"/>
<rect x="450.8" y="656.28" width="10" height="5.54" fill="#dd888d"/>
<rect x="440.8" y="661.83" width="10" height="5.54" fill="#7171bc"/>
<rect x="450.8" y="661.83" width="10" height="5.54" fill="#dd888d"/>
<rect x="440.8" y="667.37" width="10" height="5.54" fill="#6868b6"/>
<rect x="450.8" y="667.37" width="10" height="5.54" fill="#cd5258"/>
<rect x="440.8" y="672.92" width="10" height="5.54" fill="#5e5eaf"/>
<rect x="450.8" y="672.92" width="10" height="5.54" fill="#cd5258"/>
<rect x="440.8" y="678.46" width="10" height="5.54" fill="#5555a9"/>
<rect x="450.8" y="678.46" width="10" height="5.54" fill="#cd5258"/>
<rect x="440.8" y="684" width="10" height="5.54" fill="#4c4ca3"/>
<rect x="450.8" y="684" width="10" height="5.54" fill="#dd888d"/>
<rect x="440.8" y="689.55" width="10" height="5.54" fill="#4c4ca3"/>
<rect x="450.8" y="689.55" width="10" height="5.54" fill="#e9b4b8"/>
<rect x="440.8" y="695.09" width="10" height="5.54" fill="#44449b"/>
<rect x="450.8" y="695.09" width="10" height="5.54" fill="#cd5258"/>
<rect x="440.8" y="700.64" width="10" height="5.54" fill="#3d3c93"/>
<rect x="450.8" y="700.64" width="10" height="5.54" fill="#dd888d"/>
<rect x="440.8" y="706.18" width="10" height="5.54" fill="#35348a"/>
<rect x="450.8" y="706.18" width="10" height="5.54" fill="#e9b4b8"/>
<rect x="440.8" y="711.72" width="10" height="5.54" fill="#2e2c82"/>
<rect x="450.8" y="711.72" width="10" height="5.54" fill="#e9b4b8"/>
<rect x="440.8" y="717.27" width="10" height="5.54" fill="#26247a"/>
<rect x="450.8" y="717.27" width="10" height="5.54" fill="#cd5258"/>
<rect x="440.8" y="722.81" width="10" height="5.54" fill="#26247a"/>
<rect x="450.8" y="722.81" width="10" height="5.54" fill="#e9b4b8"/>
<rect x="440.8" y="728.36" width="10" height="5.54" fill="#26247a"/>
<rect x="450.8" y="728.36" width="10" height="5.54" fill="#dd888d"/>
<rect x="440.8" y="733.9" width="10" height="5.54" fill="#26247a"/>
<rect x="450.8" y="733.9" width="10" height="5.54" fill="#dd888d"/>
<rect x="440.8" y="739.44" width="10" height="5.54" fill="#26247a"/>
<rect x="450.8" y="739.44" width="10" height="5.54" fill="#dd888d"/>
<rect x="440.8" y="744.99" width="10" height="5.54" fill="#26247a"/>
<rect x="450.8" y="744.99" width="10" height="5.54" fill="#cd5258"/>
<rect x="440.8" y="750.53" width="10" height="5.54" fill="#26247a"/>
<rect x="450.8" y="750.53" width="10" height="5.54" fill="#f3d4d6"/>
<rect x="440.8" y="756.08" width="10" height="5.54" fill="#26247a"/>
<rect x="450.8" y="756.08" width="10" height="5.54" fill="#f3d4d6"/>
<rect x="440.8" y="761.62" width="10" height="5.54" fill="#26247a"/>
<rect x="450.8" y="761.62" width="10" height="5.54" fill="#f3d4d6"/>
<rect x="440.8" y="767.16" width="10" height="5.54" fill="#26247a"/>
<rect x="450.8" y="767.16" width="10" height="5.54" fill="#f3d4d6"/>
<rect x="440.8" y="772.71" width="10" height="5.54" fill="#26247a"/>
<rect x="450.8" y="772.71" width="10" height="5.54" fill="#f3d4d6"/>
<rect x="440.8" y="778.25" width="10" height="5.54" fill="#26247a"/>
<rect x="450.8" y="778.25" width="10" height="5.54" fill="#f3d4d6"/>
<rect x="440.8" y="783.8" width="10" height="5.54" fill="#26247a"/>
<rect x="450.8" y="783.8" width="10" height="5.54" fill="#f3d4d6"/>
<rect x="440.8" y="789.34" width="10" height="5.54" fill="#26247a"/>
<rect x="450.8" y="789.34" width="10" height="5.54" fill="#f3d4d6"/>
<rect x="440.8" y="794.88" width="10" height="5.54" fill="#26247a"/>
<rect x="450.8" y="794.88" width="10" height="5.54" fill="#f3d4d6"/>
<rect x="440.8" y="800.43" width="10" height="5.54" fill="#26247a"/>
<rect x="450.8" y="800.43" width="10" height="5.54" fill="#f3d4d6"/>
<rect x="440.8" y="805.97" width="10" height="5.54" fill="#26247a"/>
<rect x="450.8" y="805.97" width="10" height="5.54" fill="#f3d4d6"/>
<rect x="440.8" y="811.52" width="10" height="5.54" fill="#26247a"/>
<rect x="450.8" y="811.52" width="10" height="5.54" fill="#e9b4b8"/>
<rect x="440.8" y="817.06" width="10" height="5.54" fill="#26247a"/>
<rect x="450.8" y="817.06" width="10" height="5.54" fill="#e9b4b8"/>
<rect x="440.8" y="822.6" width="10" height="5.54" fill="#26247a"/>
<rect x="450.8" y="822.6" width="10" height="5.54" fill="#e9b4b8"/>
<rect x="440.8" y="828.15" width="10" height="5.54" fill="#26247a"/>
<rect x="450.8" y="828.15" width="10" height="5.54" fill="#e9b4b8"/>
<rect x="440.8" y="833.69" width="10" height="5.54" fill="#26247a"/>
<rect x="450.8" y="833.69" width="10" height="5.54" fill="#e9b4b8"/>
<rect x="440.8" y="839.24" width="10" height="5.54" fill="#26247a"/>
<rect x="450.8" y="839.24" width="10" height="5.54" fill="#e9b4b8"/>
<rect x="440.8" y="844.78" width="10" height="5.54" fill="#26247a"/>
<rect x="450.8" y="844.78" width="10" height="5.54" fill="#e9b4b8"/>
<rect x="440.8" y="850.32" width="10" height="5.54" fill="#26247a"/>
<rect x="450.8" y="850.32" width="10" height="5.54" fill="#e9b4b8"/>
<rect x="440.8" y="855.87" width="10" height="5.54" fill="#26247a"/>
<rect x="450.8" y="855.87" width="10" height="5.54" fill="#e9b4b8"/>
<rect x="440.8" y="861.41" width="10" height="5.54" fill="#26247a"/>
<rect x="450.8" y="861.41" width="10" height="5.54" fill="#dd888d"/>
<rect x="440.8" y="866.96" width="10" height="5.54" fill="#26247a"/>
<rect x="450.8" y="866.96" width="10" height="5.54" fill="#cd5258"/>
<path d="M418.2 318.1h42.6M418.2 323.64h42.6M418.2 329.19h42.6M418.2 334.73h42.6M418.2 340.28h42.6M418.2 345.82h42.6M418.2 351.36h42.6M418.2 356.91h42.6M418.2 362.45h42.6M418.2 368h42.6M418.2 373.54h42.6M418.2 379.08h42.6M418.2 384.63h42.6M418.2 390.17h42.6M418.2 395.72h42.6M418.2 401.26h42.6M418.2 406.8h42.6M418.2 412.35h42.6M418.2 417.89h42.6M418.2 423.44h42.6M418.2 428.98h42.6M418.2 434.52h42.6M418.2 440.07h42.6M418.2 445.61h42.6M418.2 451.16h42.6M418.2 456.7h42.6M418.2 462.24h42.6M418.2 467.79h42.6M418.2 473.33h42.6M418.2 478.88h42.6M418.2 484.42h42.6M418.2 489.96h42.6M418.2 495.51h42.6M418.2 501.05h42.6M418.2 506.6h42.6M418.2 512.14h42.6M418.2 517.68h42.6M418.2 523.23h42.6M418.2 528.77h42.6M418.2 534.32h42.6M418.2 539.86h42.6M418.2 545.4h42.6M418.2 550.95h42.6M418.2 556.49h42.6M418.2 562.04h42.6M418.2 567.58h42.6M418.2 573.12h42.6M418.2 578.67h42.6M418.2 584.21h42.6M418.2 589.76h42.6M418.2 595.3h42.6M418.2 600.84h42.6M418.2 606.39h42.6M418.2 611.93h42.6M418.2 617.48h42.6M418.2 623.02h42.6M418.2 628.56h42.6M418.2 634.11h42.6M418.2 639.65h42.6M418.2 645.2h42.6M418.2 650.74h42.6M418.2 656.28h42.6M418.2 661.83h42.6M418.2 667.37h42.6M418.2 672.92h42.6M418.2 678.46h42.6M418.2 684h42.6M418.2 689.55h42.6M418.2 695.09h42.6M418.2 700.64h42.6M418.2 706.18h42.6M418.2 711.72h42.6M418.2 717.27h42.6M418.2 722.81h42.6M418.2 728.36h42.6M418.2 733.9h42.6M418.2 739.44h42.6M418.2 744.99h42.6M418.2 750.53h42.6M418.2 756.08h42.6M418.2 761.62h42.6M418.2 767.16h42.6M418.2 772.71h42.6M418.2 778.25h42.6M418.2 783.8h42.6M418.2 789.34h42.6M418.2 794.88h42.6M418.2 800.43h42.6M418.2 805.97h42.6M418.2 811.52h42.6M418.2 817.06h42.6M418.2 822.6h42.6M418.2 828.15h42.6M418.2 833.69h42.6M418.2 839.24h42.6M418.2 844.78h42.6M418.2 850.32h42.6M418.2 855.87h42.6M418.2 861.41h42.6M418.2 866.96h42.6M418.2 872.5h42.6M418.2 318.1v554.4M423.85 318.1v554.4M429.5 318.1v554.4M435.15 318.1v554.4M440.8 318.1v554.4M450.8 318.1v554.4M460.8 318.1v554.4" stroke="#a0a0a0" stroke-width="0.7" fill="none"/>
<g font-size="5.6" stroke="#222" stroke-width="0.12"><text transform="translate(464.9 322.82) rotate(0.05)">IL7R</text><text transform="translate(464.9 328.36) rotate(0.05)">IGFBP4</text><text transform="translate(464.9 333.89) rotate(0.05)">CCR7</text><text transform="translate(464.9 339.43) rotate(0.05)">HBB</text><text transform="translate(464.9 344.96) rotate(0.05)">INPP4B</text><text transform="translate(464.9 350.5) rotate(0.05)">NELL2</text><text transform="translate(464.9 356.03) rotate(0.05)">SPINK2</text><text transform="translate(464.9 361.57) rotate(0.05)">ITM2C</text><text transform="translate(464.9 367.1) rotate(0.05)">SIRPG</text><text transform="translate(464.9 372.64) rotate(0.05)">DPP4</text><text transform="translate(464.9 378.17) rotate(0.05)">PACSIN1</text><text transform="translate(464.9 383.71) rotate(0.05)">PI16</text><text transform="translate(464.9 389.24) rotate(0.05)">BMP2</text><text transform="translate(464.9 394.78) rotate(0.05)">MYO7A</text><text transform="translate(464.9 400.31) rotate(0.05)">GNAI1</text><text transform="translate(464.9 405.85) rotate(0.05)">MSRB3</text><text transform="translate(464.9 411.38) rotate(0.05)">WDR86−AS1</text><text transform="translate(464.9 416.92) rotate(0.05)">RASSF8</text><text transform="translate(464.9 422.45) rotate(0.05)">TSPAN18</text><text transform="translate(464.9 427.99) rotate(0.05)">COL24A1</text><text transform="translate(464.9 433.52) rotate(0.05)">SH3BP4</text><text transform="translate(464.9 439.06) rotate(0.05)">MS4A1</text><text transform="translate(464.9 444.59) rotate(0.05)">CAMK4</text><text transform="translate(464.9 450.13) rotate(0.05)">ZNF521</text><text transform="translate(464.9 455.66) rotate(0.05)">IGHM</text><text transform="translate(464.9 461.2) rotate(0.05)">MAL</text><text transform="translate(464.9 466.73) rotate(0.05)">KCNK17</text><text transform="translate(464.9 472.27) rotate(0.05)">ROR1</text><text transform="translate(464.9 477.8) rotate(0.05)">CDCP1</text><text transform="translate(464.9 483.34) rotate(0.05)">IL1R1</text><text transform="translate(464.9 488.87) rotate(0.05)">AXIN2</text><text transform="translate(464.9 494.41) rotate(0.05)">RP11−678G14.3</text><text transform="translate(464.9 499.94) rotate(0.05)">IFNG−AS1</text><text transform="translate(464.9 505.48) rotate(0.05)">CCR2</text><text transform="translate(464.9 511.01) rotate(0.05)">RORC</text><text transform="translate(464.9 516.55) rotate(0.05)">RASSF8−AS1</text><text transform="translate(464.9 522.08) rotate(0.05)">TRBV4−2</text><text transform="translate(464.9 527.62) rotate(0.05)">DACH1</text><text transform="translate(464.9 533.15) rotate(0.05)">RP11−330A16.1</text><text transform="translate(464.9 538.69) rotate(0.05)">FAAH2</text><text transform="translate(464.9 544.22) rotate(0.05)">AC002383.2</text><text transform="translate(464.9 549.76) rotate(0.05)">KIAA0125</text><text transform="translate(464.9 555.29) rotate(0.05)">IL23R</text><text transform="translate(464.9 560.83) rotate(0.05)">LRP5</text><text transform="translate(464.9 566.36) rotate(0.05)">SLITRK5</text><text transform="translate(464.9 571.9) rotate(0.05)">ENPP1</text><text transform="translate(464.9 577.43) rotate(0.05)">MAMDC2</text><text transform="translate(464.9 582.97) rotate(0.05)">SIT1</text><text transform="translate(464.9 588.5) rotate(0.05)">CCR8</text><text transform="translate(464.9 594.04) rotate(0.05)">IGHD</text><text transform="translate(464.9 599.57) rotate(0.05)">PTGDS</text><text transform="translate(464.9 605.11) rotate(0.05)">CX3CR1</text><text transform="translate(464.9 610.64) rotate(0.05)">CTNNA1</text><text transform="translate(464.9 616.18) rotate(0.05)">DAB2</text><text transform="translate(464.9 621.71) rotate(0.05)">ARVCF</text><text transform="translate(464.9 627.25) rotate(0.05)">PALLD</text><text transform="translate(464.9 632.78) rotate(0.05)">LGR6</text><text transform="translate(464.9 638.32) rotate(0.05)">LAIR2</text><text transform="translate(464.9 643.85) rotate(0.05)">FBXO2</text><text transform="translate(464.9 649.39) rotate(0.05)">CMKLR1</text><text transform="translate(464.9 654.92) rotate(0.05)">DRAXIN</text><text transform="translate(464.9 660.46) rotate(0.05)">NME8</text><text transform="translate(464.9 665.99) rotate(0.05)">KIR2DP1</text><text transform="translate(464.9 671.53) rotate(0.05)">CAPN5</text><text transform="translate(464.9 677.06) rotate(0.05)">GNAL</text><text transform="translate(464.9 682.6) rotate(0.05)">BOK</text><text transform="translate(464.9 688.13) rotate(0.05)">COL13A1</text><text transform="translate(464.9 693.67) rotate(0.05)">LRRC43</text><text transform="translate(464.9 699.2) rotate(0.05)">PDGFRB</text><text transform="translate(464.9 704.74) rotate(0.05)">RRM2</text><text transform="translate(464.9 710.27) rotate(0.05)">C20orf197</text><text transform="translate(464.9 715.81) rotate(0.05)">FBLN2</text><text transform="translate(464.9 721.34) rotate(0.05)">PCDH1</text><text transform="translate(464.9 726.88) rotate(0.05)">PODN</text><text transform="translate(464.9 732.41) rotate(0.05)">CXCR1</text><text transform="translate(464.9 737.95) rotate(0.05)">SLC1A7</text><text transform="translate(464.9 743.48) rotate(0.05)">DGKK</text><text transform="translate(464.9 749.02) rotate(0.05)">BNC2</text><text transform="translate(464.9 754.55) rotate(0.05)">VIT</text><text transform="translate(464.9 760.09) rotate(0.05)">GTSE1</text><text transform="translate(464.9 765.62) rotate(0.05)">LINC00565</text><text transform="translate(464.9 771.16) rotate(0.05)">SMPDL3A</text><text transform="translate(464.9 776.69) rotate(0.05)">GLI3</text><text transform="translate(464.9 782.23) rotate(0.05)">GRM2</text><text transform="translate(464.9 787.76) rotate(0.05)">FAM182B</text><text transform="translate(464.9 793.3) rotate(0.05)">C2orf48</text><text transform="translate(464.9 798.83) rotate(0.05)">PCDHGB6</text><text transform="translate(464.9 804.37) rotate(0.05)">SLC47A1</text><text transform="translate(464.9 809.9) rotate(0.05)">OPHN1</text><text transform="translate(464.9 815.44) rotate(0.05)">RBPMS2</text><text transform="translate(464.9 820.97) rotate(0.05)">HEY2</text><text transform="translate(464.9 826.51) rotate(0.05)">ARHGEF28</text><text transform="translate(464.9 832.04) rotate(0.05)">MYBL2</text><text transform="translate(464.9 837.58) rotate(0.05)">B3GAT1</text><text transform="translate(464.9 843.11) rotate(0.05)">SORBS2</text><text transform="translate(464.9 848.65) rotate(0.05)">CHSY3</text><text transform="translate(464.9 854.18) rotate(0.05)">TBC1D30</text><text transform="translate(464.9 859.72) rotate(0.05)">KIF19</text><text transform="translate(464.9 865.25) rotate(0.05)">MGAM</text><text transform="translate(464.9 870.79) rotate(0.05)">CXCR2</text></g>
<g font-size="5.75"><text transform="translate(423.02 312.6) rotate(-89.95)">Metabolism</text><text transform="translate(428.68 312.6) rotate(-89.95)">Activation</text><text transform="translate(434.32 312.6) rotate(-89.95)">Migration</text><text transform="translate(439.97 312.6) rotate(-89.95)">Effector</text><text transform="translate(447.8 312.6) rotate(-89.95)">CD56+ ILC1-like</text><text transform="translate(457.8 312.6) rotate(-89.95)">CD56dim NK</text></g>
<text transform="translate(448.1 887.3) rotate(0.05) scale(0.7 1)" font-size="7.7" font-weight="bold">logCPM</text>
<rect x="425.8" y="893" width="66" height="5.2" fill="url(#lg)"/>
<text transform="translate(421.2 907.7) rotate(0.05)" font-size="5.6">Min</text>
<text transform="translate(487 907.7) rotate(0.05)" font-size="5.6">Max</text>
</svg>
</body></html>
